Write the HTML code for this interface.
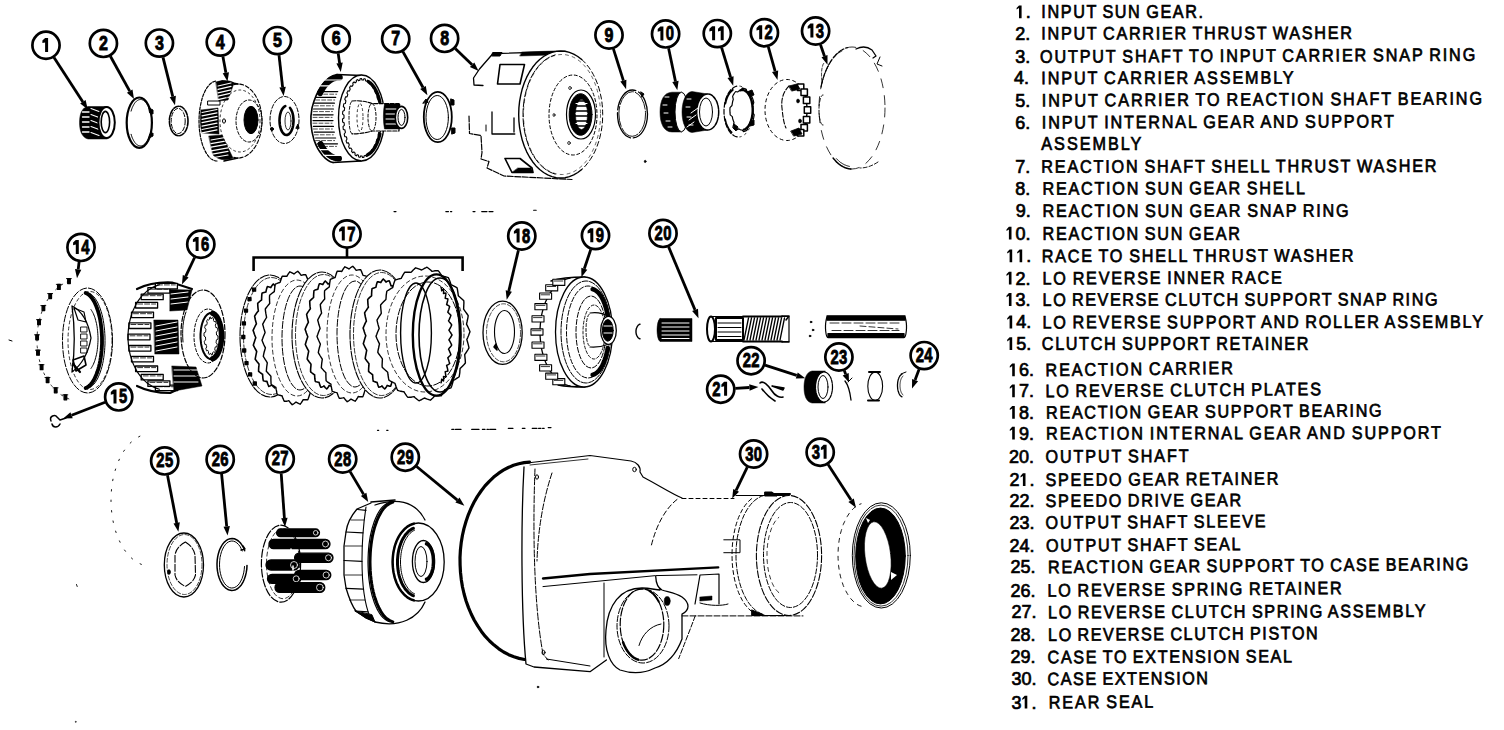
<!DOCTYPE html>
<html><head><meta charset="utf-8"><style>
html,body{margin:0;padding:0;background:#fff;}
body{width:1504px;height:730px;overflow:hidden;position:relative;}
svg{position:absolute;left:0;top:0;}
.t text{font-family:"Liberation Sans",sans-serif;font-weight:normal;font-size:18px;fill:#000;stroke:#000;stroke-width:0.7px;word-spacing:-1.5px;}
text.cn{font-family:"Liberation Sans",sans-serif;font-weight:bold;font-size:20px;fill:#000;stroke:#000;stroke-width:0.9px;text-anchor:middle;}
</style></head><body>
<svg width="1504" height="730" viewBox="0 0 1504 730">
<g class="parts" fill="none" stroke="#000" stroke-width="1.3" stroke-linecap="round" stroke-linejoin="round">
<path d="M107,106.5 H88 C82,107.5 79.5,114 79.5,122.5 C79.5,131 82,137.5 88,139 H107 Z" fill="#000" stroke="#000" stroke-width="0.5" />
<line x1="82.5" y1="112.0" x2="89.0" y2="112.0" stroke="#fff" stroke-width="1.3"/>
<line x1="82.5" y1="117.0" x2="89.0" y2="117.0" stroke="#fff" stroke-width="1.3"/>
<line x1="82.5" y1="122.0" x2="89.0" y2="122.0" stroke="#fff" stroke-width="1.3"/>
<line x1="82.5" y1="127.0" x2="89.0" y2="127.0" stroke="#fff" stroke-width="1.3"/>
<line x1="82.5" y1="132.0" x2="89.0" y2="132.0" stroke="#fff" stroke-width="1.3"/>
<line x1="91.0" y1="108.5" x2="99.0" y2="111.5" stroke="#fff" stroke-width="1.1"/>
<line x1="91.0" y1="114.5" x2="99.0" y2="117.5" stroke="#fff" stroke-width="1.1"/>
<line x1="91.0" y1="120.5" x2="99.0" y2="123.5" stroke="#fff" stroke-width="1.1"/>
<line x1="91.0" y1="126.5" x2="99.0" y2="129.5" stroke="#fff" stroke-width="1.1"/>
<line x1="91.0" y1="132.5" x2="99.0" y2="135.5" stroke="#fff" stroke-width="1.1"/>
<ellipse cx="106.6" cy="122.5" rx="8.2" ry="15.6" fill="#fff" stroke="#000" stroke-width="2" />
<ellipse cx="105.4" cy="122.0" rx="4.2" ry="10.6" fill="none" stroke="#000" stroke-width="1.6" />
<ellipse cx="139.3" cy="122.7" rx="12.6" ry="25.2" fill="none" stroke="#000" stroke-width="2.2" />
<path d="M131.1,111.1 L131.4,110.1 L131.7,109.2 L132.0,108.3 L132.3,107.5 L132.7,106.7 L133.1,105.9 L133.5,105.1 L133.9,104.4 L134.3,103.8 L134.7,103.1 L135.1,102.6 L135.6,102.0 L136.1,101.5 L136.5,101.1 L137.0,100.7 L137.5,100.4 L138.0,100.1 L138.5,99.9 L139.0,99.7 L139.6,99.6 L140.1,99.5 L140.6,99.5 L141.1,99.5 L141.6,99.6 L142.1,99.8 L142.7,100.0 L143.2,100.2 L143.7,100.5 L144.1,100.9 L144.6,101.3 L145.1,101.7 L145.6,102.2 L146.0,102.8 L146.5,103.4 L146.9,104.0 L147.3,104.7 L147.7,105.4 L148.1,106.2 L148.4,107.0 L148.8,107.8" fill="none" stroke="#000" stroke-width="1"/>
<path d="M148.8,137.6 L148.4,138.4 L148.1,139.2 L147.7,140.0 L147.3,140.7 L146.9,141.4 L146.5,142.0 L146.0,142.6 L145.6,143.2 L145.1,143.7 L144.6,144.1 L144.1,144.5 L143.7,144.9 L143.2,145.2 L142.7,145.4 L142.1,145.6 L141.6,145.8 L141.1,145.9 L140.6,145.9 L140.1,145.9 L139.6,145.8 L139.0,145.7 L138.5,145.5 L138.0,145.3 L137.5,145.0 L137.0,144.7 L136.5,144.3 L136.1,143.9 L135.6,143.4 L135.1,142.8 L134.7,142.3 L134.3,141.6 L133.9,141.0 L133.5,140.3 L133.1,139.5 L132.7,138.7 L132.3,137.9 L132.0,137.1 L131.7,136.2 L131.4,135.3 L131.1,134.3" fill="none" stroke="#000" stroke-width="1"/>
<path d="M149,108 l4,2 l0,4 l-3,-1 z" fill="#000" stroke="#000" stroke-width="1" />
<path d="M149,138 l4,-2 l0,-3 l-3,1 z" fill="#000" stroke="#000" stroke-width="1" />
<ellipse cx="178.7" cy="121.0" rx="9.3" ry="14.8" fill="none" stroke="#000" stroke-width="1.6" stroke-dasharray="5,1.5" />
<ellipse cx="178.2" cy="121.0" rx="7.0" ry="12.6" fill="none" stroke="#000" stroke-width="1" stroke-dasharray="4,2" />
<path d="M217.0,161.0 L215.6,160.9 L214.2,160.5 L212.8,159.9 L211.4,159.0 L210.1,158.0 L208.8,156.6 L207.6,155.1 L206.4,153.4 L205.3,151.4 L204.3,149.3 L203.3,147.0 L202.4,144.5 L201.7,141.9 L201.0,139.2 L200.4,136.3 L199.9,133.4 L199.5,130.3 L199.2,127.3 L199.1,124.1 L199.0,121.0 L199.1,117.9 L199.2,114.7 L199.5,111.7 L199.9,108.6 L200.4,105.7 L201.0,102.8 L201.7,100.1 L202.4,97.5 L203.3,95.0 L204.3,92.7 L205.3,90.6 L206.4,88.6 L207.6,86.9 L208.8,85.4 L210.1,84.0 L211.4,83.0 L212.8,82.1 L214.2,81.5 L215.6,81.1 L217.0,81.0" fill="none" stroke="#000" stroke-width="1.2" stroke-dasharray="3,1.5"/>
<path d="M233.8,84.6 L235.9,84.1 L238.0,84.0 L240.1,84.1 L242.2,84.6 L244.2,85.3 L246.2,86.2 L248.1,87.5 L250.0,89.0 L251.8,90.7 L253.4,92.7 L255.0,94.8 L256.4,97.2 L257.7,99.8 L258.8,102.5 L259.8,105.4 L260.6,108.3 L261.2,111.4 L261.6,114.6 L261.9,117.8 L262.0,121.0 L261.9,124.2 L261.6,127.4 L261.2,130.6 L260.6,133.7 L259.8,136.6 L258.8,139.5 L257.7,142.2 L256.4,144.8 L255.0,147.2 L253.4,149.3 L251.8,151.3 L250.0,153.0 L248.1,154.5 L246.2,155.8 L244.2,156.7 L242.2,157.4 L240.1,157.9 L238.0,158.0 L235.9,157.9 L233.8,157.4" fill="none" stroke="#000" stroke-width="1.1" stroke-dasharray="4,2"/>
<line x1="222.0" y1="81.0" x2="238.0" y2="84.0" stroke="#000" stroke-width="1.5"/>
<line x1="224.0" y1="161.0" x2="238.0" y2="158.0" stroke="#000" stroke-width="1.5"/>
<path d="M216,82 C222,80 230,80 234,83 L228,100 L219,101 Z" fill="#000" stroke="#000" stroke-width="0.5" />
<path d="M201,110 L218,108 L219,134 L202,133 C200,126 200,117 201,110 Z" fill="#000" stroke="#000" stroke-width="0.5" />
<path d="M209,136 L222,135 L233,158 C226,161 218,160 213,155 Z" fill="#000" stroke="#000" stroke-width="0.5" />
<line x1="202.0" y1="112.5" x2="217.0" y2="109.5" stroke="#fff" stroke-width="1.2"/>
<line x1="202.0" y1="115.9" x2="217.0" y2="112.9" stroke="#fff" stroke-width="1.2"/>
<line x1="202.0" y1="119.3" x2="217.0" y2="116.3" stroke="#fff" stroke-width="1.2"/>
<line x1="202.0" y1="122.7" x2="217.0" y2="119.7" stroke="#fff" stroke-width="1.2"/>
<line x1="202.0" y1="126.1" x2="217.0" y2="123.1" stroke="#fff" stroke-width="1.2"/>
<line x1="202.0" y1="129.5" x2="217.0" y2="126.5" stroke="#fff" stroke-width="1.2"/>
<line x1="202.0" y1="132.9" x2="217.0" y2="129.9" stroke="#fff" stroke-width="1.2"/>
<line x1="211.0" y1="140.0" x2="228.0" y2="137.0" stroke="#fff" stroke-width="1.2"/>
<line x1="211.0" y1="143.6" x2="228.0" y2="140.6" stroke="#fff" stroke-width="1.2"/>
<line x1="211.0" y1="147.2" x2="228.0" y2="144.2" stroke="#fff" stroke-width="1.2"/>
<line x1="211.0" y1="150.8" x2="228.0" y2="147.8" stroke="#fff" stroke-width="1.2"/>
<line x1="211.0" y1="154.4" x2="228.0" y2="151.4" stroke="#fff" stroke-width="1.2"/>
<line x1="211.0" y1="158.0" x2="228.0" y2="155.0" stroke="#fff" stroke-width="1.2"/>
<line x1="218.0" y1="86.0" x2="231.0" y2="83.0" stroke="#fff" stroke-width="1.2"/>
<line x1="218.0" y1="89.4" x2="231.0" y2="86.4" stroke="#fff" stroke-width="1.2"/>
<line x1="218.0" y1="92.8" x2="231.0" y2="89.8" stroke="#fff" stroke-width="1.2"/>
<line x1="218.0" y1="96.2" x2="231.0" y2="93.2" stroke="#fff" stroke-width="1.2"/>
<line x1="218.0" y1="99.6" x2="231.0" y2="96.6" stroke="#fff" stroke-width="1.2"/>
<path d="M208,101 h12 v4 h-12 z" fill="none" stroke="#000" stroke-width="1" />
<ellipse cx="251.0" cy="120.0" rx="7.0" ry="13.7" fill="#000" stroke="#000" stroke-width="1" />
<ellipse cx="249.0" cy="121.0" rx="13.0" ry="21.0" fill="none" stroke="#000" stroke-width="1" stroke-dasharray="3,2" />
<ellipse cx="240.0" cy="121.0" rx="20.0" ry="31.0" fill="none" stroke="#000" stroke-width="0.8" stroke-dasharray="2,3" />
<ellipse cx="224.0" cy="121.0" rx="1.5" ry="2.2" fill="none" stroke="#000" stroke-width="1" />
<ellipse cx="284.5" cy="120.0" rx="14.5" ry="23.5" fill="none" stroke="#000" stroke-width="1" stroke-dasharray="4,2" />
<path d="M290.0,107.9 L290.8,109.1 L291.5,110.4 L292.2,112.0 L292.7,113.7 L293.1,115.5 L293.3,117.5 L293.5,119.5 L293.5,121.5 L293.3,123.5 L293.1,125.5 L292.7,127.3 L292.2,129.0 L291.5,130.6 L290.8,131.9 L290.0,133.1 L289.1,133.9 L288.2,134.6 L287.2,134.9 L286.3,135.0 L285.3,134.8 L284.3,134.3 L283.4,133.5 L282.6,132.5 L281.8,131.3 L281.1,129.8 L280.6,128.2 L280.1,126.4 L279.8,124.5 L279.6,122.5 L279.5,120.5 L279.6,118.5 L279.8,116.5 L280.1,114.6 L280.6,112.8 L281.1,111.2 L281.8,109.7 L282.6,108.5 L283.4,107.5 L284.3,106.7 L285.3,106.2" fill="none" stroke="#000" stroke-width="2.6"/>
<ellipse cx="288.0" cy="121.0" rx="3.0" ry="9.0" fill="none" stroke="#000" stroke-width="0.8" />
<ellipse cx="272.0" cy="129.0" rx="1.5" ry="1.5" fill="#000" stroke="#000" stroke-width="1" />
<path d="M296,128 l2,-4 l1,4 z" fill="#000" stroke="#000" stroke-width="1" />
<path d="M337,74.5 C325,76 316,92 312,108 C310,118 311,130 314,140 C318,152 326,161 333,162.5" fill="none" stroke="#000" stroke-width="1.6" />
<path d="M320.1,93.1 L320.4,92.3 L320.8,91.6 L321.2,90.9 L321.6,90.2 L322.0,89.5 L322.4,88.8 L322.8,88.2 L323.2,87.5 L323.6,86.9 L324.1,86.3 L324.5,85.7 L325.0,85.2 L325.4,84.6 L325.9,84.1 L326.4,83.6 L326.9,83.1 L327.3,82.6 L327.8,82.1 L328.3,81.7 L328.9,81.3 L329.4,80.9 L329.9,80.5 L330.4,80.2 L330.9,79.8 L331.5,79.5 L332.0,79.2 L332.6,79.0 L333.1,78.7 L333.7,78.5 L334.2,78.3 L334.8,78.1 L335.3,78.0 L335.9,77.8 L336.4,77.7 L337.0,77.6 L337.6,77.6 L338.1,77.5 L338.7,77.5 L339.3,77.5 L339.8,77.5" fill="none" stroke="#000" stroke-width="6"/>
<path d="M339.0,158.5 L338.5,158.5 L338.0,158.5 L337.4,158.4 L336.9,158.3 L336.4,158.3 L335.9,158.2 L335.3,158.0 L334.8,157.9 L334.3,157.7 L333.8,157.5 L333.3,157.3 L332.8,157.1 L332.3,156.9 L331.8,156.6 L331.3,156.4 L330.8,156.1 L330.3,155.7 L329.8,155.4 L329.3,155.1 L328.9,154.7 L328.4,154.3 L327.9,153.9 L327.5,153.5 L327.0,153.1 L326.5,152.6 L326.1,152.2 L325.7,151.7 L325.2,151.2 L324.8,150.7 L324.4,150.1 L324.0,149.6 L323.6,149.0 L323.2,148.4 L322.8,147.9 L322.4,147.3 L322.0,146.6 L321.7,146.0 L321.3,145.4 L321.0,144.7 L320.6,144.0" fill="none" stroke="#000" stroke-width="6"/>
<line x1="324.7" y1="80.0" x2="344.7" y2="80.0" stroke="#fff" stroke-width="1.2"/>
<line x1="320.5" y1="85.8" x2="340.5" y2="85.8" stroke="#fff" stroke-width="1.2"/>
<line x1="317.7" y1="91.6" x2="337.7" y2="91.6" stroke="#000" stroke-width="1.2"/>
<line x1="317.7" y1="94.2" x2="336.7" y2="94.2" stroke="#000" stroke-width="0.7" stroke-dasharray="4,2"/>
<line x1="315.7" y1="97.4" x2="335.7" y2="97.4" stroke="#000" stroke-width="1.2"/>
<line x1="315.7" y1="100.0" x2="334.7" y2="100.0" stroke="#000" stroke-width="0.7" stroke-dasharray="4,2"/>
<line x1="314.4" y1="103.2" x2="334.4" y2="103.2" stroke="#000" stroke-width="1.2"/>
<line x1="314.4" y1="105.8" x2="333.4" y2="105.8" stroke="#000" stroke-width="0.7" stroke-dasharray="4,2"/>
<line x1="313.5" y1="109.0" x2="333.5" y2="109.0" stroke="#000" stroke-width="1.2"/>
<line x1="313.5" y1="111.6" x2="332.5" y2="111.6" stroke="#000" stroke-width="0.7" stroke-dasharray="4,2"/>
<line x1="313.1" y1="114.8" x2="333.1" y2="114.8" stroke="#000" stroke-width="1.2"/>
<line x1="313.1" y1="117.4" x2="332.1" y2="117.4" stroke="#000" stroke-width="0.7" stroke-dasharray="4,2"/>
<line x1="313.0" y1="120.6" x2="333.0" y2="120.6" stroke="#000" stroke-width="1.2"/>
<line x1="313.0" y1="123.2" x2="332.0" y2="123.2" stroke="#000" stroke-width="0.7" stroke-dasharray="4,2"/>
<line x1="313.4" y1="126.4" x2="333.4" y2="126.4" stroke="#000" stroke-width="1.2"/>
<line x1="313.4" y1="129.0" x2="332.4" y2="129.0" stroke="#000" stroke-width="0.7" stroke-dasharray="4,2"/>
<line x1="314.3" y1="132.2" x2="334.3" y2="132.2" stroke="#000" stroke-width="1.2"/>
<line x1="314.3" y1="134.8" x2="333.3" y2="134.8" stroke="#000" stroke-width="0.7" stroke-dasharray="4,2"/>
<line x1="315.6" y1="138.0" x2="335.6" y2="138.0" stroke="#000" stroke-width="1.2"/>
<line x1="315.6" y1="140.6" x2="334.6" y2="140.6" stroke="#000" stroke-width="0.7" stroke-dasharray="4,2"/>
<line x1="317.5" y1="143.8" x2="337.5" y2="143.8" stroke="#000" stroke-width="1.2"/>
<line x1="317.5" y1="146.4" x2="336.5" y2="146.4" stroke="#000" stroke-width="0.7" stroke-dasharray="4,2"/>
<line x1="320.1" y1="149.6" x2="340.1" y2="149.6" stroke="#fff" stroke-width="1.2"/>
<line x1="324.1" y1="155.4" x2="344.1" y2="155.4" stroke="#fff" stroke-width="1.2"/>
<line x1="337.0" y1="74.5" x2="362.0" y2="75.5" stroke="#000" stroke-width="1.6"/>
<line x1="333.0" y1="162.5" x2="361.0" y2="161.0" stroke="#000" stroke-width="1.6"/>
<ellipse cx="361.5" cy="118.0" rx="23.0" ry="43.0" fill="#fff" stroke="#000" stroke-width="1.4" />
<path d="M362.0,80.0 L362.4,80.0 L362.9,80.0 L363.3,80.1 L363.9,78.7 L364.4,78.8 L364.9,78.9 L365.3,79.1 L365.5,80.7 L365.9,80.9 L366.4,81.1 L366.8,81.4 L367.7,80.2 L368.1,80.5 L368.6,80.8 L369.0,81.1 L368.9,82.9 L369.3,83.3 L369.7,83.6 L370.1,84.1 L371.2,83.2 L371.6,83.6 L372.0,84.1 L372.4,84.6 L372.0,86.4 L372.4,86.9 L372.7,87.5 L373.1,88.0 L374.4,87.5 L374.7,88.1 L375.1,88.7 L375.4,89.4 L374.7,91.1 L375.0,91.8 L375.3,92.5 L375.6,93.2 L377.1,92.9 L377.4,93.7 L377.7,94.5 L377.9,95.3 L377.0,96.9 L377.2,97.7 L377.4,98.5 L377.7,99.3 L379.2,99.4 L379.4,100.2 L379.6,101.1 L379.8,102.0 L378.6,103.5 L378.8,104.3 L378.9,105.2 L379.1,106.1 L380.7,106.5 L380.8,107.5 L380.9,108.4 L381.0,109.3 L379.7,110.6 L379.7,111.5 L379.8,112.4 L379.9,113.3 L381.4,114.1 L381.4,115.1 L381.5,116.1 L381.5,117.0 L380.0,118.0 L380.0,118.9 L380.0,119.9 L380.0,120.8 L381.4,121.9 L381.4,122.8 L381.3,123.8 L381.2,124.8 L379.7,125.4 L379.6,126.3 L379.5,127.2 L379.3,128.1 L380.7,129.5 L380.5,130.4 L380.4,131.3 L380.2,132.2 L378.6,132.5 L378.5,133.4 L378.3,134.2 L378.1,135.1 L379.2,136.6 L379.0,137.5 L378.7,138.3 L378.5,139.1 L377.0,139.1 L376.7,139.9 L376.5,140.6 L376.2,141.4 L377.1,143.1 L376.8,143.8 L376.4,144.5 L376.1,145.2 L374.7,144.9 L374.4,145.5 L374.1,146.2 L373.8,146.8 L374.4,148.5 L374.0,149.1 L373.6,149.7 L373.2,150.3 L372.0,149.6 L371.6,150.1 L371.3,150.6 L370.9,151.1 L371.2,152.8 L370.8,153.3 L370.3,153.7 L369.9,154.1 L368.9,153.1 L368.5,153.5 L368.1,153.8 L367.6,154.1 L367.7,155.8 L367.2,156.1 L366.7,156.3 L366.3,156.5 L365.5,155.3 L365.1,155.4 L364.6,155.6 L364.2,155.7 L363.9,157.3 L363.4,157.4 L363.0,157.5 L362.5,157.5 L362.0,156.0 L361.6,156.0 L361.1,156.0 L360.7,155.9 L360.1,157.3 L359.6,157.2 L359.1,157.1 L358.7,156.9 L358.5,155.3 L358.1,155.1 L357.6,154.9 L357.2,154.6 L356.3,155.8 L355.9,155.5 L355.4,155.2 L355.0,154.9 L355.1,153.1 L354.7,152.7 L354.3,152.4 L353.9,151.9 L352.8,152.8 L352.4,152.4 L352.0,151.9 L351.6,151.4 L352.0,149.6 L351.6,149.1 L351.3,148.5 L350.9,148.0 L349.6,148.5 L349.3,147.9 L348.9,147.3 L348.6,146.6 L349.3,144.9 L349.0,144.2 L348.7,143.5 L348.4,142.8 L346.9,143.1 L346.6,142.3 L346.3,141.5 L346.1,140.7 L347.0,139.1 L346.8,138.3 L346.6,137.5 L346.3,136.7 L344.8,136.6 L344.6,135.8 L344.4,134.9 L344.2,134.0 L345.4,132.5 L345.2,131.7 L345.1,130.8 L344.9,129.9 L343.3,129.5 L343.2,128.5 L343.1,127.6 L343.0,126.7 L344.3,125.4 L344.3,124.5 L344.2,123.6 L344.1,122.7 L342.6,121.9 L342.6,120.9 L342.5,119.9 L342.5,119.0 L344.0,118.0 L344.0,117.1 L344.0,116.1 L344.0,115.2 L342.6,114.1 L342.6,113.2 L342.7,112.2 L342.8,111.2 L344.3,110.6 L344.4,109.7 L344.5,108.8 L344.7,107.9 L343.3,106.5 L343.5,105.6 L343.6,104.7 L343.8,103.8 L345.4,103.5 L345.5,102.6 L345.7,101.8 L345.9,100.9 L344.8,99.4 L345.0,98.5 L345.3,97.7 L345.5,96.9 L347.0,96.9 L347.3,96.1 L347.5,95.4 L347.8,94.6 L346.9,92.9 L347.2,92.2 L347.6,91.5 L347.9,90.8 L349.3,91.1 L349.6,90.5 L349.9,89.8 L350.2,89.2 L349.6,87.5 L350.0,86.9 L350.4,86.3 L350.8,85.7 L352.0,86.4 L352.4,85.9 L352.7,85.4 L353.1,84.9 L352.8,83.2 L353.2,82.7 L353.7,82.3 L354.1,81.9 L355.1,82.9 L355.5,82.5 L355.9,82.2 L356.4,81.9 L356.3,80.2 L356.8,79.9 L357.3,79.7 L357.7,79.5 L358.5,80.7 L358.9,80.6 L359.4,80.4 L359.8,80.3 L360.1,78.7 L360.6,78.6 L361.0,78.5 L361.5,78.5 L362.0,80.0" fill="none" stroke="#000" stroke-width="1.1"/>
<path d="M368.5,81.8 L368.9,82.0 L369.3,82.2 L369.6,82.5 L370.0,82.8 L370.3,83.0 L370.7,83.4 L371.0,83.7 L371.4,84.0 L371.7,84.4 L372.1,84.7 L372.4,85.1 L372.8,85.5 L373.1,85.9 L373.4,86.4 L373.7,86.8 L374.0,87.3 L374.3,87.8 L374.7,88.2 L375.0,88.8 L375.2,89.3 L375.5,89.8 L375.8,90.4 L376.1,90.9 L376.4,91.5 L376.6,92.1 L376.9,92.7 L377.2,93.3 L377.4,93.9 L377.6,94.5 L377.9,95.2 L378.1,95.8 L378.3,96.5 L378.6,97.2 L378.8,97.9 L379.0,98.5 L379.2,99.2 L379.3,100.0 L379.5,100.7 L379.7,101.4 L379.9,102.2" fill="none" stroke="#000" stroke-width="3.4"/>
<path d="M379.9,133.8 L379.7,134.6 L379.5,135.4 L379.3,136.2 L379.1,136.9 L378.9,137.7 L378.7,138.4 L378.5,139.1 L378.2,139.8 L378.0,140.5 L377.7,141.2 L377.5,141.9 L377.2,142.6 L377.0,143.2 L376.7,143.8 L376.4,144.5 L376.1,145.1 L375.8,145.7 L375.5,146.2 L375.2,146.8 L374.9,147.3 L374.6,147.9 L374.2,148.4 L373.9,148.9 L373.6,149.4 L373.2,149.8 L372.9,150.3 L372.5,150.7 L372.2,151.1 L371.8,151.5 L371.5,151.9 L371.1,152.3 L370.7,152.6 L370.3,152.9 L370.0,153.2 L369.6,153.5 L369.2,153.8 L368.8,154.1 L368.4,154.3 L368.0,154.5 L367.6,154.7" fill="none" stroke="#000" stroke-width="3.4"/>
<path d="M352,101 C360,100 368,102 372,103.6 H399 V131 H372 C366,133 358,134 352,133.8" fill="#fff" stroke="#000" stroke-width="1.2" stroke-dasharray="4,1.5" />
<path d="M352.0,133.5 L351.8,133.5 L351.5,133.3 L351.3,133.1 L351.1,132.7 L350.9,132.3 L350.6,131.8 L350.4,131.1 L350.2,130.4 L350.1,129.7 L349.9,128.8 L349.7,127.9 L349.6,126.9 L349.4,125.9 L349.3,124.8 L349.2,123.6 L349.1,122.4 L349.1,121.2 L349.0,120.0 L349.0,118.8 L349.0,117.5 L349.0,116.2 L349.0,115.0 L349.1,113.8 L349.1,112.6 L349.2,111.4 L349.3,110.2 L349.4,109.1 L349.6,108.1 L349.7,107.1 L349.9,106.2 L350.1,105.3 L350.2,104.6 L350.4,103.9 L350.6,103.2 L350.9,102.7 L351.1,102.3 L351.3,101.9 L351.5,101.7 L351.8,101.5 L352.0,101.5" fill="none" stroke="#000" stroke-width="1" stroke-dasharray="3,2"/>
<path d="M372.0,103.6 L372.6,103.8 L373.2,104.3 L373.8,105.1 L374.4,106.2 L374.8,107.6 L375.2,109.2 L375.6,111.1 L375.8,113.1 L376.0,115.2 L376.0,117.3 L376.0,119.4 L375.8,121.5 L375.6,123.5 L375.2,125.4 L374.8,127.0 L374.4,128.4 L373.8,129.5 L373.2,130.3 L372.6,130.8 L372.0,131.0 L371.4,130.8 L370.8,130.3 L370.2,129.5 L369.6,128.4 L369.2,127.0 L368.8,125.4 L368.4,123.5 L368.2,121.5 L368.0,119.4 L368.0,117.3 L368.0,115.2 L368.2,113.1 L368.4,111.1 L368.8,109.2 L369.2,107.6 L369.6,106.2 L370.2,105.1 L370.8,104.3 L371.4,103.8 L372.0,103.6" fill="none" stroke="#000" stroke-width="1" stroke-dasharray="3,2"/>
<ellipse cx="360.0" cy="117.5" rx="3.0" ry="14.0" fill="none" stroke="#000" stroke-width="0.8" stroke-dasharray="2,3" />
<path d="M384.5,104 H400 V129 H384.5 C383,122 383,111 384.5,104 Z" fill="#000" stroke="#000" stroke-width="0.5" />
<line x1="386.0" y1="109.0" x2="396.0" y2="109.0" stroke="#fff" stroke-width="1"/>
<line x1="386.0" y1="114.0" x2="396.0" y2="114.0" stroke="#fff" stroke-width="1"/>
<line x1="386.0" y1="119.0" x2="396.0" y2="119.0" stroke="#fff" stroke-width="1"/>
<line x1="386.0" y1="124.0" x2="396.0" y2="124.0" stroke="#fff" stroke-width="1"/>
<ellipse cx="401.5" cy="117.4" rx="6.2" ry="11.0" fill="#fff" stroke="#000" stroke-width="1.6" />
<ellipse cx="401.5" cy="117.4" rx="3.5" ry="8.0" fill="none" stroke="#000" stroke-width="1" />
<ellipse cx="437.8" cy="117.0" rx="14.0" ry="25.2" fill="none" stroke="#000" stroke-width="1.8" />
<ellipse cx="437.2" cy="117.5" rx="11.2" ry="22.0" fill="none" stroke="#000" stroke-width="1" />
<path d="M451,99 l3,1 v5 l-3,0 z" fill="#000" stroke="#000" stroke-width="1" />
<path d="M452,128 l3,0 v5 l-3,1 z" fill="#000" stroke="#000" stroke-width="1" />
<path d="M423,103 l3,-4 l2,3 z" fill="#000" stroke="#000" stroke-width="1" />
<path d="M565,51.5 L493,53.5 L479.5,69 L473.5,78 L474,85 L483,85.5" fill="none" stroke="#000" stroke-width="1.3" />
<path d="M469,116 L469.5,133.5 L481,135.5 L482,152.5 L481,159 L489,161.5 L487,168 L504,176 L572,179.5" fill="none" stroke="#000" stroke-width="1.2" stroke-dasharray="6,1.5" />
<path d="M493,52.5 L502,52.5 L500,56 L492,56 Z" fill="#000" stroke="#000" stroke-width="1" />
<path d="M522,52 L555,51 L552,55 L520,56 Z" fill="#000" stroke="#000" stroke-width="0.5" />
<ellipse cx="560.7" cy="114.5" rx="42.0" ry="63.5" fill="#fff" stroke="none" stroke-width="0" />
<path d="M581.7,169.5 L577.8,172.5 L573.7,174.9 L569.4,176.6 L565.1,177.7 L560.7,178.0 L556.3,177.7 L552.0,176.6 L547.7,174.9 L543.6,172.5 L539.7,169.5 L536.0,165.9 L532.6,161.7 L529.5,157.0 L526.7,151.8 L524.3,146.2 L522.3,140.3 L520.8,134.1 L519.6,127.7 L518.9,121.1 L518.7,114.5 L518.9,107.9 L519.6,101.3 L520.8,94.9 L522.3,88.7 L524.3,82.8 L526.7,77.2 L529.5,72.0 L532.6,67.3 L536.0,63.1 L539.7,59.5 L543.6,56.5 L547.7,54.1 L552.0,52.4 L556.3,51.3 L560.7,51.0 L565.1,51.3 L569.4,52.4 L573.7,54.1 L577.8,56.5 L581.7,59.5" fill="none" stroke="#000" stroke-width="1.4"/>
<path d="M581.7,59.5 L583.6,61.2 L585.4,63.1 L587.1,65.2 L588.8,67.3 L590.4,69.6 L591.9,72.0 L593.3,74.5 L594.7,77.2 L595.9,79.9 L597.1,82.8 L598.1,85.7 L599.1,88.7 L599.9,91.7 L600.6,94.9 L601.3,98.1 L601.8,101.3 L602.2,104.6 L602.5,107.9 L602.6,111.2 L602.7,114.5 L602.6,117.8 L602.5,121.1 L602.2,124.4 L601.8,127.7 L601.3,130.9 L600.6,134.1 L599.9,137.3 L599.1,140.3 L598.1,143.3 L597.1,146.2 L595.9,149.1 L594.7,151.8 L593.3,154.5 L591.9,157.0 L590.4,159.4 L588.8,161.7 L587.1,163.8 L585.4,165.9 L583.6,167.8 L581.7,169.5" fill="none" stroke="#000" stroke-width="1" stroke-dasharray="5,3"/>
<path d="M555.2,174.1 L552.6,173.2 L549.9,172.0 L547.4,170.6 L544.9,168.9 L542.5,166.9 L540.2,164.7 L538.0,162.2 L535.9,159.5 L533.9,156.5 L532.1,153.4 L530.4,150.1 L528.9,146.6 L527.6,142.9 L526.4,139.1 L525.4,135.2 L524.5,131.2 L523.9,127.1 L523.4,122.9 L523.1,118.7 L523.0,114.5 L523.1,110.3 L523.4,106.1 L523.9,101.9 L524.5,97.8 L525.4,93.8 L526.4,89.9 L527.6,86.1 L528.9,82.4 L530.4,78.9 L532.1,75.6 L533.9,72.5 L535.9,69.5 L538.0,66.8 L540.2,64.3 L542.5,62.1 L544.9,60.1 L547.4,58.4 L549.9,57.0 L552.6,55.8 L555.2,54.9" fill="none" stroke="#000" stroke-width="1" stroke-dasharray="8,2"/>
<ellipse cx="562.0" cy="114.5" rx="38.5" ry="60.0" fill="none" stroke="#000" stroke-width="0.6" stroke-dasharray="3,4" />
<path d="M500,64.5 L524.5,64.5 L520,84 L497.5,84 Z" fill="none" stroke="#000" stroke-width="1.6" />
<path d="M492,112 V134 H514.8 M514,118 V132" fill="none" stroke="#000" stroke-width="1.3" />
<path d="M505,158.5 L520,158.5 L532,168 L533,172.5 L512,172.5 Z" fill="none" stroke="#000" stroke-width="1.6" />
<path d="M512,172.5 L533,172.5 L531,168 L518,168 Z" fill="#000" stroke="#000" stroke-width="0.5" />
<path d="M486,125 v6" fill="none" stroke="#000" stroke-width="1" />
<ellipse cx="573.0" cy="115.0" rx="24.0" ry="40.0" fill="none" stroke="#000" stroke-width="1" stroke-dasharray="3,2.5" />
<ellipse cx="581.0" cy="114.5" rx="14.5" ry="24.5" fill="none" stroke="#000" stroke-width="1.2" />
<ellipse cx="580.6" cy="114.5" rx="11.4" ry="20.8" fill="#000" stroke="#000" stroke-width="1" />
<ellipse cx="581.5" cy="114.5" rx="6.0" ry="15.0" fill="#fff" stroke="#000" stroke-width="0.5" />
<line x1="575.0" y1="101.0" x2="588.0" y2="101.0" stroke="#000" stroke-width="1.5"/>
<line x1="575.0" y1="106.0" x2="588.0" y2="106.0" stroke="#000" stroke-width="1.5"/>
<line x1="575.0" y1="111.0" x2="588.0" y2="111.0" stroke="#000" stroke-width="1.5"/>
<line x1="575.0" y1="116.0" x2="588.0" y2="116.0" stroke="#000" stroke-width="1.5"/>
<line x1="575.0" y1="121.0" x2="588.0" y2="121.0" stroke="#000" stroke-width="1.5"/>
<line x1="575.0" y1="126.0" x2="588.0" y2="126.0" stroke="#000" stroke-width="1.5"/>
<line x1="576.0" y1="103.5" x2="587.0" y2="103.5" stroke="#fff" stroke-width="1"/>
<line x1="576.0" y1="113.5" x2="587.0" y2="113.5" stroke="#fff" stroke-width="1"/>
<line x1="576.0" y1="123.5" x2="587.0" y2="123.5" stroke="#fff" stroke-width="1"/>
<ellipse cx="570.0" cy="88.0" rx="1.3" ry="1.5" fill="none" stroke="#000" stroke-width="0.8" />
<ellipse cx="569.0" cy="143.0" rx="1.3" ry="1.5" fill="none" stroke="#000" stroke-width="0.8" />
<ellipse cx="554.0" cy="115.0" rx="1.0" ry="1.5" fill="none" stroke="#000" stroke-width="0.8" />
<ellipse cx="632.5" cy="114.0" rx="15.0" ry="24.0" fill="none" stroke="#000" stroke-width="1.3" stroke-dasharray="30,3" />
<ellipse cx="632.2" cy="114.0" rx="13.3" ry="22.3" fill="none" stroke="#000" stroke-width="0.9" stroke-dasharray="20,2" />
<path d="M641,92 l3,2 l-2,3 z" fill="#000" stroke="#000" stroke-width="1" />
<path d="M681.5,92.2 H672 C664,92.5 660,100 660,112 C660,124 664,132 672,132 H681.5 Z" fill="#000" stroke="#000" stroke-width="0.5" />
<ellipse cx="681.5" cy="112.0" rx="6.5" ry="19.8" fill="#fff" stroke="#000" stroke-width="1" />
<path d="M707.7,94 L692,91.5 C686,92 682,101 682,112 C682,123 686,132 692,132.5 L707.7,130 Z" fill="#000" stroke="#000" stroke-width="0.5" />
<ellipse cx="707.7" cy="112.0" rx="11.0" ry="18.0" fill="#fff" stroke="#000" stroke-width="1.5" stroke-dasharray="4,1" />
<ellipse cx="706.0" cy="112.0" rx="6.5" ry="14.0" fill="none" stroke="#000" stroke-width="1" />
<line x1="665.0" y1="97.0" x2="669.0" y2="97.0" stroke="#fff" stroke-width="1"/>
<line x1="663.0" y1="105.0" x2="667.0" y2="105.0" stroke="#fff" stroke-width="1"/>
<line x1="664.0" y1="113.0" x2="668.0" y2="113.0" stroke="#fff" stroke-width="1"/>
<line x1="666.0" y1="121.0" x2="670.0" y2="121.0" stroke="#fff" stroke-width="1"/>
<line x1="668.0" y1="127.0" x2="672.0" y2="127.0" stroke="#fff" stroke-width="1"/>
<line x1="687.0" y1="99.0" x2="691.0" y2="99.0" stroke="#fff" stroke-width="1"/>
<line x1="686.0" y1="107.0" x2="690.0" y2="107.0" stroke="#fff" stroke-width="1"/>
<line x1="687.0" y1="117.0" x2="691.0" y2="117.0" stroke="#fff" stroke-width="1"/>
<line x1="689.0" y1="125.0" x2="693.0" y2="125.0" stroke="#fff" stroke-width="1"/>
<line x1="687.0" y1="127.0" x2="694.0" y2="122.0" stroke="#fff" stroke-width="1"/>
<line x1="689.0" y1="120.0" x2="696.0" y2="115.0" stroke="#fff" stroke-width="1"/>
<line x1="691.0" y1="113.0" x2="698.0" y2="108.0" stroke="#fff" stroke-width="1"/>
<path d="M737.2,136.9 L736.2,136.7 L735.1,136.3 L734.1,135.8 L733.1,135.1 L732.1,134.4 L731.1,133.5 L730.2,132.5 L729.4,131.3 L728.6,130.1 L727.8,128.7 L727.1,127.3 L726.5,125.8 L725.9,124.2 L725.4,122.5 L725.0,120.7 L724.6,119.0 L724.4,117.1 L724.2,115.3 L724.0,113.4 L724.0,111.5 L724.0,109.6 L724.2,107.7 L724.4,105.9 L724.6,104.0 L725.0,102.3 L725.4,100.5 L725.9,98.8 L726.5,97.2 L727.1,95.7 L727.8,94.3 L728.6,92.9 L729.4,91.7 L730.2,90.5 L731.1,89.5 L732.1,88.6 L733.1,87.9 L734.1,87.2 L735.1,86.7 L736.2,86.3 L737.2,86.1" fill="none" stroke="#000" stroke-width="1.2" stroke-dasharray="5,2"/>
<path d="M739.8,86.1 L740.8,86.3 L741.9,86.7 L742.9,87.2 L743.9,87.9 L744.9,88.6 L745.9,89.5 L746.8,90.5 L747.6,91.7 L748.4,92.9 L749.2,94.3 L749.9,95.7 L750.5,97.2 L751.1,98.8 L751.6,100.5 L752.0,102.3 L752.4,104.0 L752.6,105.9 L752.8,107.7 L753.0,109.6 L753.0,111.5 L753.0,113.4 L752.8,115.3 L752.6,117.1 L752.4,119.0 L752.0,120.7 L751.6,122.5 L751.1,124.2 L750.5,125.8 L749.9,127.3 L749.2,128.7 L748.4,130.1 L747.6,131.3 L746.8,132.5 L745.9,133.5 L744.9,134.4 L743.9,135.1 L742.9,135.8 L741.9,136.3 L740.8,136.7 L739.8,136.9" fill="none" stroke="#000" stroke-width="0.8" stroke-dasharray="2,4"/>
<path d="M725.3,103.6 L725.3,103.2 L725.5,102.7 L725.6,102.2 L725.7,101.8 L725.8,101.3 L725.9,100.9 L726.0,100.4 L726.2,100.0 L726.3,99.6 L726.5,99.1 L726.6,98.7 L726.8,98.3 L726.9,97.9 L727.1,97.5 L727.3,97.1 L727.4,96.7 L727.6,96.3 L727.8,96.0 L728.0,95.6 L728.2,95.2 L728.4,94.9 L728.6,94.5 L728.8,94.2 L729.0,93.9 L729.2,93.6 L729.4,93.3 L729.6,93.0 L729.8,92.7 L730.1,92.4 L730.3,92.1 L730.5,91.8 L730.8,91.6 L731.0,91.3 L731.2,91.1 L731.5,90.9 L731.7,90.7 L732.0,90.4 L732.2,90.3 L732.5,90.1 L732.7,89.9" fill="none" stroke="#000" stroke-width="2"/>
<path d="M731.7,132.3 L731.5,132.2 L731.3,131.9 L731.1,131.7 L730.8,131.5 L730.6,131.3 L730.4,131.1 L730.2,130.8 L730.0,130.6 L729.8,130.3 L729.6,130.0 L729.4,129.8 L729.2,129.5 L729.0,129.2 L728.8,128.9 L728.7,128.6 L728.5,128.3 L728.3,128.0 L728.1,127.7 L728.0,127.4 L727.8,127.0 L727.6,126.7 L727.5,126.4 L727.3,126.0 L727.1,125.7 L727.0,125.3 L726.9,124.9 L726.7,124.6 L726.6,124.2 L726.4,123.8 L726.3,123.4 L726.2,123.0 L726.1,122.7 L726.0,122.3 L725.8,121.9 L725.7,121.4 L725.6,121.0 L725.5,120.6 L725.4,120.2 L725.3,119.8 L725.3,119.4" fill="none" stroke="#000" stroke-width="1.6"/>
<path d="M742.2,88.2 L743.6,88.3 L744.9,88.7 L746.3,89.4 L746.8,92.0 L747.8,93.1 L748.7,94.4 L749.6,95.9 L751.8,96.4 L752.6,98.4 L753.3,100.5 L753.8,102.8 L752.4,105.5 L752.6,107.8 L752.7,110.0 L752.6,112.2 L754.2,114.9 L753.8,117.2 L753.3,119.5 L752.6,121.6 L750.4,122.5 L749.6,124.1 L748.7,125.6 L747.8,126.9 L747.5,129.6 L746.3,130.6 L744.9,131.3 L743.6,131.7 L742.2,130.0 L741.0,129.9 L739.9,129.5 L738.7,128.9 L736.9,129.6 L735.7,128.5 L734.5,127.0 L733.5,125.4 L734.0,122.5 L733.3,120.6 L732.7,118.7 L732.3,116.6 L730.2,114.9 L730.0,112.4 L729.9,110.0 L730.0,107.6 L732.0,105.5 L732.3,103.4 L732.7,101.3 L733.3,99.4 L732.6,96.4 L733.5,94.6 L734.5,93.0 L735.7,91.5 L737.6,92.0 L738.7,91.1 L739.9,90.5 L741.0,90.1 L742.2,88.2" fill="none" stroke="#000" stroke-width="1.2"/>
<path d="M740.4,90.3 L741.2,90.1 L742.0,90.0 L742.8,90.0 L743.7,90.2 L744.5,90.5 L745.3,90.9 L746.0,91.4 L746.8,92.0 L747.5,92.8 L748.2,93.6 L748.9,94.6 L749.5,95.6 L750.1,96.7 L750.6,98.0 L751.1,99.3 L751.5,100.6 L751.8,102.0 L752.1,103.5 L752.4,105.0 L752.5,106.5 L752.7,108.1 L752.7,109.7 L752.7,111.2 L752.6,112.8 L752.5,114.3 L752.2,115.8 L752.0,117.3 L751.6,118.8 L751.2,120.2 L750.8,121.5 L750.3,122.7 L749.8,123.9 L749.2,125.0 L748.5,126.0 L747.8,126.9 L747.1,127.7 L746.4,128.3 L745.6,128.9 L744.8,129.4 L744.0,129.7" fill="none" stroke="#000" stroke-width="2.4"/>
<path d="M747,92 l5,-2 l2,5 l-4,1 z" fill="#000" stroke="#000" stroke-width="1" />
<path d="M750,122 l4,-2 l0,5 l-4,1 z" fill="#000" stroke="#000" stroke-width="1" />
<path d="M734,124 l4,3 l-2,4 l-3,-3 z" fill="#000" stroke="#000" stroke-width="1" />
<ellipse cx="787.0" cy="110.0" rx="22.0" ry="30.5" fill="none" stroke="#000" stroke-width="1" stroke-dasharray="3,3.5" />
<path d="M789,86 C783,92 781,100 782,108 C783,118 784,124 786,128" fill="none" stroke="#000" stroke-width="1.1" stroke-dasharray="5,2" />
<path d="M797.9,85.4 L798.7,85.7 L799.4,86.2 L800.1,86.8 L800.8,87.5 L801.5,88.3 L802.2,89.3 L802.8,90.3 L803.4,91.4 L803.9,92.6 L804.4,93.9 L804.9,95.3 L805.3,96.8 L805.7,98.3 L806.0,99.8 L806.3,101.4 L806.6,103.1 L806.8,104.8 L806.9,106.5 L807.0,108.3 L807.0,110.0 L807.0,111.7 L806.9,113.5 L806.8,115.2 L806.6,116.9 L806.3,118.6 L806.0,120.2 L805.7,121.7 L805.3,123.2 L804.9,124.7 L804.4,126.1 L803.9,127.4 L803.4,128.6 L802.8,129.7 L802.2,130.7 L801.5,131.7 L800.8,132.5 L800.1,133.2 L799.4,133.8 L798.7,134.3 L797.9,134.6" fill="none" stroke="#000" stroke-width="1.4"/>
<rect x="797.4" y="84.0" width="6.4" height="6.4" fill="#fff" stroke="#000" stroke-width="1.5"/>
<rect x="801.0" y="89.0" width="6.4" height="6.4" fill="#fff" stroke="#000" stroke-width="1.5"/>
<rect x="803.4" y="97.0" width="6.4" height="6.4" fill="#fff" stroke="#000" stroke-width="1.5"/>
<rect x="804.3" y="106.8" width="6.4" height="6.4" fill="#fff" stroke="#000" stroke-width="1.5"/>
<rect x="803.4" y="116.6" width="6.4" height="6.4" fill="#fff" stroke="#000" stroke-width="1.5"/>
<rect x="801.0" y="124.6" width="6.4" height="6.4" fill="#fff" stroke="#000" stroke-width="1.5"/>
<rect x="797.4" y="129.6" width="6.4" height="6.4" fill="#fff" stroke="#000" stroke-width="1.5"/>
<path d="M789,86 L797,84 L800,89 L792,91 Z" fill="#000" stroke="#000" stroke-width="0.8" />
<path d="M791,131 L799,128 L802,134 L794,136 Z" fill="#000" stroke="#000" stroke-width="0.8" />
<ellipse cx="798.0" cy="101.0" rx="1.5" ry="2.0" fill="#000" stroke="#000" stroke-width="0.5" />
<ellipse cx="800.0" cy="121.0" rx="1.5" ry="2.0" fill="#000" stroke="#000" stroke-width="0.5" />
<ellipse cx="852.0" cy="108.0" rx="33.0" ry="61.0" fill="none" stroke="#000" stroke-width="0.8" stroke-dasharray="9,8" />
<path d="M821.0,87.1 L821.3,85.6 L821.6,84.1 L822.0,82.6 L822.4,81.1 L822.8,79.6 L823.2,78.1 L823.7,76.7 L824.1,75.3 L824.6,73.9 L825.1,72.6 L825.7,71.2 L826.2,69.9 L826.8,68.7 L827.4,67.4 L828.0,66.2 L828.6,65.0 L829.2,63.9 L829.9,62.7 L830.5,61.6 L831.2,60.6 L831.9,59.6 L832.6,58.6 L833.4,57.6 L834.1,56.7 L834.9,55.9 L835.6,55.0 L836.4,54.2 L837.2,53.5 L838.0,52.7 L838.8,52.1 L839.7,51.4 L840.5,50.8 L841.3,50.3 L842.2,49.8 L843.0,49.3 L843.9,48.9 L844.8,48.5 L845.6,48.1 L846.5,47.8 L847.4,47.6" fill="none" stroke="#000" stroke-width="1.2" stroke-dasharray="6,2"/>
<path d="M821.9,83.1 L822.2,81.9 L822.5,80.8 L822.8,79.6 L823.2,78.5 L823.5,77.4 L823.9,76.3 L824.2,75.2 L824.6,74.2 L825.0,73.1 L825.4,72.1 L825.8,71.1 L826.3,70.1 L826.7,69.1 L827.1,68.1 L827.6,67.2 L828.1,66.3 L828.6,65.4 L829.1,64.5 L829.6,63.6 L830.1,62.8 L830.6,62.0 L831.1,61.2 L831.7,60.4 L832.2,59.7 L832.8,58.9 L833.3,58.2 L833.9,57.6 L834.5,56.9 L835.1,56.3 L835.7,55.7 L836.3,55.1 L836.9,54.5 L837.5,54.0 L838.1,53.5 L838.8,53.0 L839.4,52.6 L840.0,52.1 L840.7,51.7 L841.3,51.4 L842.0,51.0" fill="none" stroke="#000" stroke-width="0.8" stroke-dasharray="4,3"/>
<path d="M850.8,169.0 L850.4,168.9 L849.9,168.9 L849.4,168.8 L849.0,168.7 L848.5,168.7 L848.0,168.6 L847.5,168.4 L847.1,168.3 L846.6,168.2 L846.1,168.0 L845.7,167.9 L845.2,167.7 L844.7,167.5 L844.3,167.3 L843.8,167.1 L843.3,166.9 L842.9,166.6 L842.4,166.4 L842.0,166.1 L841.5,165.8 L841.1,165.6 L840.6,165.3 L840.2,165.0 L839.7,164.6 L839.3,164.3 L838.9,164.0 L838.4,163.6 L838.0,163.2 L837.6,162.9 L837.1,162.5 L836.7,162.1 L836.3,161.7 L835.9,161.2 L835.5,160.8 L835.1,160.4 L834.7,159.9 L834.3,159.4 L833.9,159.0 L833.5,158.5 L833.1,158.0" fill="none" stroke="#000" stroke-width="1.5"/>
<path d="M849.3,166.3 L849.0,166.2 L848.6,166.2 L848.3,166.1 L848.0,166.0 L847.6,165.9 L847.3,165.8 L847.0,165.7 L846.6,165.6 L846.3,165.5 L846.0,165.4 L845.6,165.2 L845.3,165.1 L845.0,165.0 L844.6,164.8 L844.3,164.7 L844.0,164.5 L843.7,164.3 L843.3,164.2 L843.0,164.0 L842.7,163.8 L842.4,163.6 L842.0,163.4 L841.7,163.2 L841.4,163.0 L841.1,162.8 L840.8,162.5 L840.4,162.3 L840.1,162.0 L839.8,161.8 L839.5,161.5 L839.2,161.3 L838.9,161.0 L838.6,160.7 L838.3,160.5 L838.0,160.2 L837.7,159.9 L837.4,159.6 L837.1,159.3 L836.8,159.0 L836.5,158.7" fill="none" stroke="#000" stroke-width="1"/>
<path d="M823.0,125.0 L822.7,125.0 L822.4,124.8 L822.1,124.6 L821.8,124.3 L821.5,123.9 L821.2,123.4 L820.9,122.8 L820.6,122.1 L820.4,121.4 L820.2,120.6 L820.0,119.7 L819.8,118.8 L819.6,117.8 L819.4,116.8 L819.3,115.7 L819.2,114.6 L819.1,113.5 L819.0,112.3 L819.0,111.2 L819.0,110.0 L819.0,108.8 L819.0,107.7 L819.1,106.5 L819.2,105.4 L819.3,104.3 L819.4,103.2 L819.6,102.2 L819.8,101.2 L820.0,100.3 L820.2,99.4 L820.4,98.6 L820.6,97.9 L820.9,97.2 L821.2,96.6 L821.5,96.1 L821.8,95.7 L822.1,95.4 L822.4,95.2 L822.7,95.0 L823.0,95.0" fill="none" stroke="#000" stroke-width="1" stroke-dasharray="4,2"/>
<path d="M821.9,81.0 L821.8,80.5 L821.8,80.0 L821.7,79.4 L821.7,78.9 L821.6,78.4 L821.6,77.8 L821.6,77.2 L821.5,76.7 L821.5,76.1 L821.5,75.5 L821.5,74.9 L821.5,74.4 L821.5,73.8 L821.5,73.2 L821.6,72.7 L821.6,72.1 L821.6,71.5 L821.7,71.0 L821.7,70.5 L821.8,69.9 L821.8,69.4 L821.9,68.9 L822.0,68.4 L822.1,67.9 L822.2,67.5 L822.3,67.0 L822.4,66.6 L822.5,66.2 L822.6,65.8 L822.7,65.5 L822.8,65.1 L822.9,64.8 L823.0,64.5 L823.2,64.3 L823.3,64.0 L823.4,63.8 L823.6,63.6 L823.7,63.4 L823.8,63.3 L824.0,63.2" fill="none" stroke="#000" stroke-width="0.9" stroke-dasharray="3,2"/>
<path d="M856,49 C862,46 868,47 872,50 L876,56 L873,58" fill="none" stroke="#000" stroke-width="1.3" />
<path d="M880,57 L877,64 L882,66" fill="none" stroke="#000" stroke-width="1" />
<path d="M878,162 C872,166 866,168 860,168" fill="none" stroke="#000" stroke-width="0.9" stroke-dasharray="4,2" />
<path d="M68.9,398.9 L66.1,397.7 L63.4,396.3 L60.8,394.6 L58.3,392.7 L55.9,390.5 L53.6,388.1 L51.4,385.5 L49.3,382.7 L47.3,379.7 L45.5,376.5 L43.9,373.2 L42.4,369.7 L41.1,366.0 L40.0,362.3 L39.0,358.5 L38.2,354.6 L37.7,350.6 L37.2,346.5 L37.0,342.5 L37.0,338.4 L37.2,334.3 L37.5,330.3 L38.1,326.3 L38.8,322.4 L39.8,318.5 L40.9,314.8 L42.1,311.1 L43.6,307.6 L45.2,304.2 L46.9,301.0 L48.8,298.0 L50.9,295.1 L53.1,292.4 L55.4,290.0 L57.8,287.8 L60.3,285.8 L62.9,284.0 L65.5,282.6 L68.3,281.3 L71.1,280.3" fill="none" stroke="#000" stroke-width="0.8" stroke-dasharray="2,5"/>
<rect x="64.1" y="394.8" width="2.6" height="5" fill="#000"/>
<line x1="62.8" y1="394.8" x2="67.8" y2="394.8" stroke="#000" stroke-width="0.9"/>
<rect x="54.4" y="387.8" width="2.6" height="5" fill="#000"/>
<line x1="53.1" y1="387.8" x2="58.1" y2="387.8" stroke="#000" stroke-width="0.9"/>
<rect x="46.3" y="377.5" width="2.6" height="5" fill="#000"/>
<line x1="45.0" y1="377.5" x2="50.0" y2="377.5" stroke="#000" stroke-width="0.9"/>
<rect x="40.3" y="364.7" width="2.6" height="5" fill="#000"/>
<line x1="39.0" y1="364.7" x2="44.0" y2="364.7" stroke="#000" stroke-width="0.9"/>
<rect x="36.7" y="350.2" width="2.6" height="5" fill="#000"/>
<line x1="35.4" y1="350.2" x2="40.4" y2="350.2" stroke="#000" stroke-width="0.9"/>
<rect x="35.8" y="334.8" width="2.6" height="5" fill="#000"/>
<line x1="34.5" y1="334.8" x2="39.5" y2="334.8" stroke="#000" stroke-width="0.9"/>
<rect x="37.7" y="319.7" width="2.6" height="5" fill="#000"/>
<line x1="36.4" y1="319.7" x2="41.4" y2="319.7" stroke="#000" stroke-width="0.9"/>
<rect x="42.1" y="305.6" width="2.6" height="5" fill="#000"/>
<line x1="40.8" y1="305.6" x2="45.8" y2="305.6" stroke="#000" stroke-width="0.9"/>
<rect x="48.9" y="293.6" width="2.6" height="5" fill="#000"/>
<line x1="47.6" y1="293.6" x2="52.6" y2="293.6" stroke="#000" stroke-width="0.9"/>
<rect x="57.6" y="284.4" width="2.6" height="5" fill="#000"/>
<line x1="56.3" y1="284.4" x2="61.3" y2="284.4" stroke="#000" stroke-width="0.9"/>
<rect x="67.7" y="278.6" width="2.6" height="5" fill="#000"/>
<line x1="66.4" y1="278.6" x2="71.4" y2="278.6" stroke="#000" stroke-width="0.9"/>
<ellipse cx="87.5" cy="340.5" rx="25.0" ry="52.5" fill="none" stroke="#000" stroke-width="1" stroke-dasharray="7,2" />
<ellipse cx="90.0" cy="340.5" rx="22.0" ry="49.0" fill="none" stroke="#000" stroke-width="0.8" stroke-dasharray="3,3" />
<path d="M85.6,293.0 L87.0,293.6 L88.3,294.4 L89.6,295.5 L90.8,296.8 L92.1,298.3 L93.2,300.1 L94.4,302.0 L95.4,304.2 L96.4,306.5 L97.3,309.0 L98.2,311.7 L99.0,314.5 L99.7,317.4 L100.3,320.5 L100.8,323.7 L101.2,326.9 L101.6,330.3 L101.8,333.7 L102.0,337.1 L102.0,340.5 L102.0,343.9 L101.8,347.3 L101.6,350.7 L101.2,354.1 L100.8,357.3 L100.3,360.5 L99.7,363.6 L99.0,366.5 L98.2,369.3 L97.3,372.0 L96.4,374.5 L95.4,376.8 L94.4,379.0 L93.2,380.9 L92.1,382.7 L90.8,384.2 L89.6,385.5 L88.3,386.6 L87.0,387.4 L85.6,388.0" fill="none" stroke="#000" stroke-width="3.8"/>
<path d="M88.6,293.0 L90.0,293.6 L91.3,294.4 L92.6,295.5 L93.8,296.8 L95.1,298.3 L96.2,300.1 L97.4,302.0 L98.4,304.2 L99.4,306.5 L100.3,309.0 L101.2,311.7 L102.0,314.5 L102.7,317.4 L103.3,320.5 L103.8,323.7 L104.2,326.9 L104.6,330.3 L104.8,333.7 L105.0,337.1 L105.0,340.5 L105.0,343.9 L104.8,347.3 L104.6,350.7 L104.2,354.1 L103.8,357.3 L103.3,360.5 L102.7,363.6 L102.0,366.5 L101.2,369.3 L100.3,372.0 L99.4,374.5 L98.4,376.8 L97.4,379.0 L96.2,380.9 L95.1,382.7 L93.8,384.2 L92.6,385.5 L91.3,386.6 L90.0,387.4 L88.6,388.0" fill="none" stroke="#000" stroke-width="1"/>
<path d="M91.0,309.6 L91.6,310.5 L92.2,311.5 L92.8,312.6 L93.4,313.7 L93.9,315.0 L94.4,316.2 L94.9,317.6 L95.3,319.0 L95.7,320.5 L96.1,322.0 L96.5,323.6 L96.8,325.2 L97.1,326.8 L97.3,328.5 L97.5,330.2 L97.7,331.9 L97.8,333.7 L97.9,335.4 L98.0,337.2 L98.0,339.0 L98.0,340.8 L97.9,342.6 L97.8,344.3 L97.7,346.1 L97.5,347.8 L97.3,349.5 L97.1,351.2 L96.8,352.8 L96.5,354.4 L96.1,356.0 L95.7,357.5 L95.3,359.0 L94.9,360.4 L94.4,361.8 L93.9,363.0 L93.4,364.3 L92.8,365.4 L92.2,366.5 L91.6,367.5 L91.0,368.4" fill="none" stroke="#000" stroke-width="1"/>
<path d="M72,306 C80,310 88,320 91,338 C88,355 80,366 72,372 C75,350 75,328 72,306 Z" fill="none" stroke="#000" stroke-width="1.3" />
<path d="M74,308 L84,312 L86,322 L78,320 Z" fill="none" stroke="#000" stroke-width="1.2" />
<path d="M73,360 L84,356 L86,365 L76,371 Z" fill="none" stroke="#000" stroke-width="1.6" />
<rect x="81" y="327" width="6" height="5" fill="none" stroke="#000" stroke-width="0.9"/>
<rect x="81" y="334" width="6" height="5" fill="none" stroke="#000" stroke-width="0.9"/>
<rect x="81" y="341" width="6" height="5" fill="none" stroke="#000" stroke-width="0.9"/>
<rect x="81" y="348" width="6" height="5" fill="none" stroke="#000" stroke-width="0.9"/>
<line x1="73.0" y1="364.0" x2="80.0" y2="372.0" stroke="#000" stroke-width="2.2"/>
<path d="M51,421 C49,416 55,414 57,417 L60,420 L66,418 M52,424 C53,428 58,428 60,424" fill="none" stroke="#000" stroke-width="1.5" />
<path d="M137,289 C147,284 160,282 172,282.5 L192,289" fill="none" stroke="#000" stroke-width="2.2" />
<path d="M137,386 C147,391 158,393 170,393 L198,380" fill="none" stroke="#000" stroke-width="2.2" />
<rect x="155.4" y="385.1" width="22" height="5.6" fill="#fff" stroke="#000" stroke-width="1.3"/>
<line x1="157.4" y1="386.7" x2="175.4" y2="386.7" stroke="#000" stroke-width="0.8" stroke-dasharray="5,2"/>
<rect x="147.9" y="380.8" width="22" height="5.6" fill="#fff" stroke="#000" stroke-width="1.3"/>
<line x1="149.9" y1="382.4" x2="167.9" y2="382.4" stroke="#000" stroke-width="0.8" stroke-dasharray="5,2"/>
<rect x="141.2" y="374.3" width="22" height="5.6" fill="#fff" stroke="#000" stroke-width="1.3"/>
<line x1="143.2" y1="375.9" x2="161.2" y2="375.9" stroke="#000" stroke-width="0.8" stroke-dasharray="5,2"/>
<rect x="135.6" y="366.0" width="22" height="5.6" fill="#fff" stroke="#000" stroke-width="1.3"/>
<line x1="137.6" y1="367.6" x2="155.6" y2="367.6" stroke="#000" stroke-width="0.8" stroke-dasharray="5,2"/>
<rect x="131.5" y="356.3" width="22" height="5.6" fill="#fff" stroke="#000" stroke-width="1.3"/>
<line x1="133.5" y1="357.9" x2="151.5" y2="357.9" stroke="#000" stroke-width="0.8" stroke-dasharray="5,2"/>
<rect x="128.9" y="345.5" width="22" height="5.6" fill="#fff" stroke="#000" stroke-width="1.3"/>
<line x1="130.9" y1="347.1" x2="148.9" y2="347.1" stroke="#000" stroke-width="0.8" stroke-dasharray="5,2"/>
<rect x="128.0" y="334.2" width="22" height="5.6" fill="#fff" stroke="#000" stroke-width="1.3"/>
<line x1="130.0" y1="335.8" x2="148.0" y2="335.8" stroke="#000" stroke-width="0.8" stroke-dasharray="5,2"/>
<rect x="128.9" y="322.9" width="22" height="5.6" fill="#fff" stroke="#000" stroke-width="1.3"/>
<line x1="130.9" y1="324.5" x2="148.9" y2="324.5" stroke="#000" stroke-width="0.8" stroke-dasharray="5,2"/>
<rect x="131.5" y="312.1" width="22" height="5.6" fill="#fff" stroke="#000" stroke-width="1.3"/>
<line x1="133.5" y1="313.7" x2="151.5" y2="313.7" stroke="#000" stroke-width="0.8" stroke-dasharray="5,2"/>
<rect x="135.6" y="302.4" width="22" height="5.6" fill="#fff" stroke="#000" stroke-width="1.3"/>
<line x1="137.6" y1="304.0" x2="155.6" y2="304.0" stroke="#000" stroke-width="0.8" stroke-dasharray="5,2"/>
<rect x="141.2" y="294.1" width="22" height="5.6" fill="#fff" stroke="#000" stroke-width="1.3"/>
<line x1="143.2" y1="295.7" x2="161.2" y2="295.7" stroke="#000" stroke-width="0.8" stroke-dasharray="5,2"/>
<rect x="147.9" y="287.6" width="22" height="5.6" fill="#fff" stroke="#000" stroke-width="1.3"/>
<line x1="149.9" y1="289.2" x2="167.9" y2="289.2" stroke="#000" stroke-width="0.8" stroke-dasharray="5,2"/>
<rect x="155.4" y="283.3" width="22" height="5.6" fill="#fff" stroke="#000" stroke-width="1.3"/>
<line x1="157.4" y1="284.9" x2="175.4" y2="284.9" stroke="#000" stroke-width="0.8" stroke-dasharray="5,2"/>
<path d="M159.4,389.2 L156.8,388.4 L154.3,387.4 L151.8,386.1 L149.3,384.6 L147.0,382.9 L144.8,380.9 L142.6,378.8 L140.6,376.4 L138.7,373.8 L136.9,371.1 L135.3,368.2 L133.8,365.1 L132.4,361.9 L131.3,358.6 L130.3,355.1 L129.5,351.6 L128.8,348.0 L128.4,344.4 L128.1,340.7 L128.0,337.0 L128.1,333.3 L128.4,329.6 L128.8,326.0 L129.5,322.4 L130.3,318.9 L131.3,315.4 L132.4,312.1 L133.8,308.9 L135.3,305.8 L136.9,302.9 L138.7,300.2 L140.6,297.6 L142.6,295.2 L144.8,293.1 L147.0,291.1 L149.3,289.4 L151.8,287.9 L154.3,286.6 L156.8,285.6 L159.4,284.8" fill="none" stroke="#000" stroke-width="1.2"/>
<path d="M170,289.5 L192,290 L187,310 L170,311 Z" fill="#000" stroke="#000" stroke-width="0.5" />
<path d="M154,320 L178,320 L179,354 L155,354 Z" fill="#000" stroke="#000" stroke-width="0.5" />
<path d="M172,366 L196,367 L202,386 L174,391 Z" fill="#000" stroke="#000" stroke-width="0.5" />
<line x1="156.0" y1="326.0" x2="177.0" y2="322.0" stroke="#fff" stroke-width="1"/>
<line x1="156.0" y1="331.0" x2="177.0" y2="327.0" stroke="#fff" stroke-width="1"/>
<line x1="156.0" y1="336.0" x2="177.0" y2="332.0" stroke="#fff" stroke-width="1"/>
<line x1="156.0" y1="341.0" x2="177.0" y2="337.0" stroke="#fff" stroke-width="1"/>
<line x1="156.0" y1="346.0" x2="177.0" y2="342.0" stroke="#fff" stroke-width="1"/>
<line x1="156.0" y1="351.0" x2="177.0" y2="347.0" stroke="#fff" stroke-width="1"/>
<line x1="171.0" y1="294.0" x2="188.0" y2="292.0" stroke="#fff" stroke-width="1"/>
<line x1="174.0" y1="370.0" x2="198.0" y2="370.0" stroke="#fff" stroke-width="1"/>
<line x1="171.0" y1="299.0" x2="188.0" y2="297.0" stroke="#fff" stroke-width="1"/>
<line x1="174.0" y1="376.0" x2="198.0" y2="376.0" stroke="#fff" stroke-width="1"/>
<line x1="171.0" y1="304.0" x2="188.0" y2="302.0" stroke="#fff" stroke-width="1"/>
<line x1="174.0" y1="382.0" x2="198.0" y2="382.0" stroke="#fff" stroke-width="1"/>
<ellipse cx="203.0" cy="334.0" rx="22.0" ry="44.0" fill="none" stroke="#000" stroke-width="1.2" stroke-dasharray="5,2" />
<ellipse cx="208.0" cy="336.0" rx="14.0" ry="27.0" fill="none" stroke="#000" stroke-width="1" stroke-dasharray="3,2" />
<path d="M212.8,313.3 L213.5,313.7 L214.2,314.1 L214.9,314.7 L215.6,315.3 L216.2,316.1 L216.9,316.9 L217.5,317.9 L218.0,318.9 L218.6,320.0 L219.0,321.2 L219.5,322.5 L219.9,323.8 L220.3,325.2 L220.6,326.6 L220.9,328.1 L221.1,329.7 L221.3,331.2 L221.4,332.8 L221.5,334.4 L221.5,336.0 L221.5,337.6 L221.4,339.2 L221.3,340.8 L221.1,342.3 L220.9,343.9 L220.6,345.4 L220.3,346.8 L219.9,348.2 L219.5,349.5 L219.0,350.8 L218.6,352.0 L218.0,353.1 L217.5,354.1 L216.9,355.1 L216.2,355.9 L215.6,356.7 L214.9,357.3 L214.2,357.9 L213.5,358.3 L212.8,358.7" fill="none" stroke="#000" stroke-width="5.5"/>
<path d="M212.8,358.7 L211.9,358.9 L211.0,359.0 L210.1,358.9 L209.2,358.7 L208.3,358.2 L207.4,357.6 L206.6,356.8 L205.8,355.9 L205.0,354.8 L204.3,353.6 L203.6,352.3 L203.0,350.8 L202.4,349.2 L201.9,347.5 L201.5,345.7 L201.1,343.9 L200.9,342.0 L200.7,340.0 L200.5,338.0 L200.5,336.0 L200.5,334.0 L200.7,332.0 L200.9,330.0 L201.1,328.1 L201.5,326.3 L201.9,324.5 L202.4,322.8 L203.0,321.2 L203.6,319.7 L204.3,318.4 L205.0,317.2 L205.8,316.1 L206.6,315.2 L207.4,314.4 L208.3,313.8 L209.2,313.3 L210.1,313.1 L211.0,313.0 L211.9,313.1 L212.8,313.3" fill="none" stroke="#000" stroke-width="2"/>
<path d="M211.0,318.5 L211.3,318.5 L211.6,318.6 L211.9,318.7 L212.6,317.5 L212.9,317.7 L213.3,318.1 L213.7,318.4 L213.4,320.2 L213.7,320.7 L213.9,321.2 L214.2,321.7 L215.4,321.1 L215.7,321.8 L215.9,322.6 L216.2,323.3 L215.3,325.1 L215.5,325.9 L215.7,326.7 L215.8,327.5 L217.3,327.8 L217.5,328.7 L217.6,329.7 L217.7,330.7 L216.4,332.1 L216.4,333.1 L216.5,334.0 L216.5,335.0 L218.0,336.0 L218.0,337.1 L218.0,338.1 L217.9,339.2 L216.4,339.9 L216.3,340.8 L216.2,341.8 L216.1,342.7 L217.3,344.2 L217.1,345.2 L216.9,346.1 L216.7,347.0 L215.3,346.9 L215.1,347.7 L214.9,348.4 L214.7,349.0 L215.4,350.9 L215.1,351.5 L214.7,352.1 L214.4,352.6 L213.4,351.8 L213.1,352.2 L212.8,352.5 L212.5,352.8 L212.6,354.5 L212.2,354.7 L211.8,354.9 L211.4,355.0 L211.0,353.5 L210.7,353.5 L210.4,353.4 L210.1,353.3 L209.4,354.5 L209.1,354.3 L208.7,353.9 L208.3,353.6 L208.6,351.8 L208.3,351.3 L208.1,350.8 L207.8,350.3 L206.6,350.9 L206.3,350.2 L206.1,349.4 L205.8,348.7 L206.7,346.9 L206.5,346.1 L206.3,345.3 L206.2,344.5 L204.7,344.2 L204.5,343.3 L204.4,342.3 L204.3,341.3 L205.6,339.9 L205.6,338.9 L205.5,338.0 L205.5,337.0 L204.0,336.0 L204.0,334.9 L204.0,333.9 L204.1,332.8 L205.6,332.1 L205.7,331.2 L205.8,330.2 L205.9,329.3 L204.7,327.8 L204.9,326.8 L205.1,325.9 L205.3,325.0 L206.7,325.1 L206.9,324.3 L207.1,323.6 L207.3,323.0 L206.6,321.1 L206.9,320.5 L207.3,319.9 L207.6,319.4 L208.6,320.2 L208.9,319.8 L209.2,319.5 L209.5,319.2 L209.4,317.5 L209.8,317.3 L210.2,317.1 L210.6,317.0 L211.0,318.5" fill="none" stroke="#000" stroke-width="1"/>
<path d="M186,312 C183,320 182,330 183,342" fill="none" stroke="#000" stroke-width="1" />
<ellipse cx="270.0" cy="336.0" rx="30.0" ry="61.0" fill="#fff" stroke="#000" stroke-width="1.1" stroke-dasharray="9,1.5" />
<ellipse cx="271.5" cy="336.0" rx="28.0" ry="58.5" fill="none" stroke="#000" stroke-width="0.8" stroke-dasharray="5,2" />
<path d="M273.3,284.0 L274.0,284.7 L274.7,285.4 L275.4,286.2 L276.0,287.1 L276.7,286.6 L277.5,286.2 L278.3,285.9 L279.2,285.6 L279.7,286.8 L280.2,288.0 L280.6,289.3 L281.0,290.6 L281.9,290.6 L282.8,290.8 L283.7,291.0 L284.7,291.3 L285.0,292.9 L285.2,294.5 L285.3,296.1 L285.4,297.7 L286.4,298.3 L287.4,299.0 L288.4,299.8 L289.4,300.6 L289.4,302.4 L289.3,304.3 L289.1,306.1 L289.0,308.0 L289.9,309.1 L290.9,310.2 L291.8,311.5 L292.8,312.8 L292.5,314.7 L292.1,316.7 L291.7,318.6 L291.3,320.5 L292.1,322.0 L293.0,323.5 L293.8,325.1 L294.7,326.8 L294.1,328.7 L293.5,330.6 L292.9,332.5 L292.2,334.3 L292.9,336.0 L293.6,337.8 L294.2,339.7 L294.9,341.6 L294.1,343.3 L293.3,345.0 L292.5,346.6 L291.6,348.2 L292.1,350.1 L292.6,352.0 L293.0,354.0 L293.4,355.9 L292.5,357.3 L291.5,358.7 L290.6,359.9 L289.6,361.1 L289.9,363.0 L290.1,364.9 L290.2,366.8 L290.3,368.7 L289.3,369.6 L288.3,370.5 L287.4,371.3 L286.4,372.0 L286.4,373.7 L286.3,375.4 L286.2,377.1 L286.0,378.7 L285.0,379.2 L284.0,379.5 L283.0,379.8 L282.1,380.0 L281.8,381.4 L281.5,382.8 L281.1,384.1 L280.6,385.4 L279.7,385.2 L278.8,385.0 L278.0,384.8 L277.2,384.4 L276.7,385.4 L276.1,386.3 L275.4,387.2 L274.7,388.0 L274.0,387.3 L273.3,386.6 L272.6,385.8 L272.0,384.9 L271.3,385.4 L270.5,385.8 L269.7,386.1 L268.8,386.4 L268.3,385.2 L267.8,384.0 L267.4,382.7 L267.0,381.4 L266.1,381.4 L265.2,381.2 L264.3,381.0 L263.3,380.7 L263.0,379.1 L262.8,377.5 L262.7,375.9 L262.6,374.3 L261.6,373.7 L260.6,373.0 L259.6,372.2 L258.6,371.4 L258.6,369.6 L258.7,367.7 L258.9,365.9 L259.0,364.0 L258.1,362.9 L257.1,361.8 L256.2,360.5 L255.2,359.2 L255.5,357.3 L255.9,355.3 L256.3,353.4 L256.7,351.5 L255.9,350.0 L255.0,348.5 L254.2,346.9 L253.3,345.2 L253.9,343.3 L254.5,341.4 L255.1,339.5 L255.8,337.7 L255.1,336.0 L254.4,334.2 L253.8,332.3 L253.1,330.4 L253.9,328.7 L254.7,327.0 L255.5,325.4 L256.4,323.8 L255.9,321.9 L255.4,320.0 L255.0,318.0 L254.6,316.1 L255.5,314.7 L256.5,313.3 L257.4,312.1 L258.4,310.9 L258.1,309.0 L257.9,307.1 L257.8,305.2 L257.7,303.3 L258.7,302.4 L259.7,301.5 L260.6,300.7 L261.6,300.0 L261.6,298.3 L261.7,296.6 L261.8,294.9 L262.0,293.3 L263.0,292.8 L264.0,292.5 L265.0,292.2 L265.9,292.0 L266.2,290.6 L266.5,289.2 L266.9,287.9 L267.4,286.6 L268.3,286.8 L269.2,287.0 L270.0,287.2 L270.8,287.6 L271.3,286.6 L271.9,285.7 L272.6,284.8 L273.3,284.0" fill="none" stroke="#000" stroke-width="1.6"/>
<rect x="253.3" y="382.0" width="3" height="3" fill="#000"/>
<rect x="248.6" y="372.9" width="3" height="3" fill="#000"/>
<rect x="245.0" y="361.7" width="3" height="3" fill="#000"/>
<rect x="242.7" y="349.0" width="3" height="3" fill="#000"/>
<rect x="241.8" y="335.5" width="3" height="3" fill="#000"/>
<rect x="242.4" y="321.9" width="3" height="3" fill="#000"/>
<rect x="244.5" y="309.1" width="3" height="3" fill="#000"/>
<rect x="248.0" y="297.6" width="3" height="3" fill="#000"/>
<rect x="252.6" y="288.2" width="3" height="3" fill="#000"/>
<path d="M294.0,274.0 L294.9,273.3 L295.8,272.5 L296.8,271.9 L297.8,271.2 L298.7,272.2 L299.6,273.2 L300.4,274.3 L301.2,275.4 L302.2,275.1 L303.3,274.8 L304.4,274.7 L305.6,274.6 L306.3,275.9 L306.9,277.4 L307.5,278.8 L308.0,280.3 L309.2,280.5 L310.3,280.8 L311.6,281.1 L312.8,281.6 L313.2,283.3 L313.5,285.1 L313.9,286.8 L314.1,288.6 L315.3,289.3 L316.5,290.1 L317.7,290.9 L318.9,291.8 L319.0,293.8 L319.1,295.8 L319.1,297.8 L319.1,299.8 L320.2,301.0 L321.4,302.2 L322.5,303.5 L323.7,304.8 L323.5,306.9 L323.3,309.0 L323.0,311.1 L322.7,313.2 L323.7,314.8 L324.7,316.3 L325.7,318.0 L326.7,319.7 L326.3,321.8 L325.8,324.0 L325.2,326.0 L324.6,328.1 L325.5,329.9 L326.4,331.8 L327.2,333.7 L328.0,335.7 L327.2,337.7 L326.5,339.7 L325.7,341.6 L324.9,343.5 L325.5,345.5 L326.2,347.6 L326.7,349.6 L327.3,351.8 L326.3,353.6 L325.4,355.3 L324.4,357.0 L323.4,358.6 L323.8,360.7 L324.2,362.8 L324.5,364.9 L324.7,367.0 L323.6,368.5 L322.5,369.9 L321.4,371.2 L320.3,372.5 L320.4,374.5 L320.5,376.6 L320.5,378.6 L320.4,380.7 L319.2,381.7 L318.0,382.7 L316.8,383.6 L315.7,384.4 L315.5,386.3 L315.3,388.1 L315.0,390.0 L314.7,391.8 L313.4,392.3 L312.2,392.8 L311.0,393.3 L309.9,393.6 L309.4,395.2 L308.9,396.8 L308.4,398.3 L307.8,399.8 L306.6,399.8 L305.4,399.8 L304.3,399.7 L303.2,399.6 L302.5,400.8 L301.8,402.0 L301.0,403.1 L300.1,404.2 L299.0,403.7 L298.0,403.2 L297.0,402.6 L296.0,402.0 L295.1,402.7 L294.2,403.5 L293.2,404.1 L292.2,404.8 L291.3,403.8 L290.4,402.8 L289.6,401.7 L288.8,400.6 L287.8,400.9 L286.7,401.2 L285.6,401.3 L284.4,401.4 L283.7,400.1 L283.1,398.6 L282.5,397.2 L282.0,395.7 L280.8,395.5 L279.7,395.2 L278.4,394.9 L277.2,394.4 L276.8,392.7 L276.5,390.9 L276.1,389.2 L275.9,387.4 L274.7,386.7 L273.5,385.9 L272.3,385.1 L271.1,384.2 L271.0,382.2 L270.9,380.2 L270.9,378.2 L270.9,376.2 L269.8,375.0 L268.6,373.8 L267.5,372.5 L266.3,371.2 L266.5,369.1 L266.7,367.0 L267.0,364.9 L267.3,362.8 L266.3,361.2 L265.3,359.7 L264.3,358.0 L263.3,356.3 L263.7,354.2 L264.2,352.0 L264.8,350.0 L265.4,347.9 L264.5,346.1 L263.6,344.2 L262.8,342.3 L262.0,340.3 L262.8,338.3 L263.5,336.3 L264.3,334.4 L265.1,332.5 L264.5,330.5 L263.8,328.4 L263.3,326.4 L262.7,324.2 L263.7,322.4 L264.6,320.7 L265.6,319.0 L266.6,317.4 L266.2,315.3 L265.8,313.2 L265.5,311.1 L265.3,309.0 L266.4,307.5 L267.5,306.1 L268.6,304.8 L269.7,303.5 L269.6,301.5 L269.5,299.4 L269.5,297.4 L269.6,295.3 L270.8,294.3 L272.0,293.3 L273.2,292.4 L274.3,291.6 L274.5,289.7 L274.7,287.9 L275.0,286.0 L275.3,284.2 L276.6,283.7 L277.8,283.2 L279.0,282.7 L280.1,282.4 L280.6,280.8 L281.1,279.2 L281.6,277.7 L282.2,276.2 L283.4,276.2 L284.6,276.2 L285.7,276.3 L286.8,276.4 L287.5,275.2 L288.2,274.0 L289.0,272.9 L289.9,271.8 L291.0,272.3 L292.0,272.8 L293.0,273.4 L294.0,274.0" fill="#fff" stroke="#000" stroke-width="1.4"/>
<ellipse cx="297.0" cy="338.0" rx="25.0" ry="58.0" fill="none" stroke="#000" stroke-width="0.8" stroke-dasharray="4,3" />
<ellipse cx="300.0" cy="338.0" rx="18.0" ry="52.0" fill="none" stroke="#000" stroke-width="1" stroke-dasharray="7,2" />
<ellipse cx="322.0" cy="335.0" rx="30.0" ry="63.0" fill="#fff" stroke="#000" stroke-width="1.1" stroke-dasharray="9,1.5" />
<ellipse cx="323.5" cy="335.0" rx="28.0" ry="60.5" fill="none" stroke="#000" stroke-width="0.8" stroke-dasharray="5,2" />
<path d="M325.3,281.0 L326.0,281.7 L326.7,282.4 L327.4,283.2 L328.0,284.1 L328.7,283.6 L329.5,283.2 L330.3,282.9 L331.2,282.7 L331.7,283.9 L332.2,285.1 L332.6,286.4 L333.0,287.7 L333.9,287.8 L334.8,288.0 L335.7,288.2 L336.7,288.6 L337.0,290.2 L337.2,291.8 L337.3,293.5 L337.4,295.2 L338.4,295.8 L339.4,296.5 L340.4,297.3 L341.4,298.2 L341.4,300.1 L341.3,302.0 L341.1,303.9 L341.0,305.8 L341.9,307.0 L342.9,308.2 L343.8,309.5 L344.8,310.9 L344.5,312.9 L344.1,314.9 L343.7,316.9 L343.3,318.9 L344.1,320.4 L345.0,322.0 L345.8,323.7 L346.7,325.5 L346.1,327.5 L345.5,329.4 L344.9,331.3 L344.2,333.2 L344.9,335.0 L345.6,336.9 L346.2,338.8 L346.9,340.8 L346.1,342.6 L345.3,344.4 L344.5,346.1 L343.6,347.7 L344.1,349.7 L344.6,351.7 L345.0,353.7 L345.4,355.7 L344.5,357.2 L343.5,358.6 L342.6,359.9 L341.6,361.2 L341.9,363.1 L342.1,365.0 L342.2,367.0 L342.3,368.9 L341.3,369.9 L340.3,370.9 L339.4,371.7 L338.4,372.5 L338.4,374.3 L338.3,376.0 L338.2,377.7 L338.0,379.4 L337.0,379.9 L336.0,380.3 L335.0,380.6 L334.1,380.8 L333.8,382.2 L333.5,383.6 L333.1,385.0 L332.6,386.3 L331.7,386.2 L330.8,386.0 L330.0,385.7 L329.2,385.4 L328.7,386.4 L328.1,387.3 L327.4,388.2 L326.7,389.0 L326.0,388.3 L325.3,387.6 L324.6,386.8 L324.0,385.9 L323.3,386.4 L322.5,386.8 L321.7,387.1 L320.8,387.3 L320.3,386.1 L319.8,384.9 L319.4,383.6 L319.0,382.3 L318.1,382.2 L317.2,382.0 L316.3,381.8 L315.3,381.4 L315.0,379.8 L314.8,378.2 L314.7,376.5 L314.6,374.8 L313.6,374.2 L312.6,373.5 L311.6,372.7 L310.6,371.8 L310.6,369.9 L310.7,368.0 L310.9,366.1 L311.0,364.2 L310.1,363.0 L309.1,361.8 L308.2,360.5 L307.2,359.1 L307.5,357.1 L307.9,355.1 L308.3,353.1 L308.7,351.1 L307.9,349.6 L307.0,348.0 L306.2,346.3 L305.3,344.5 L305.9,342.5 L306.5,340.6 L307.1,338.7 L307.8,336.8 L307.1,335.0 L306.4,333.1 L305.8,331.2 L305.1,329.2 L305.9,327.4 L306.7,325.6 L307.5,323.9 L308.4,322.3 L307.9,320.3 L307.4,318.3 L307.0,316.3 L306.6,314.3 L307.5,312.8 L308.5,311.4 L309.4,310.1 L310.4,308.8 L310.1,306.9 L309.9,305.0 L309.8,303.0 L309.7,301.1 L310.7,300.1 L311.7,299.1 L312.6,298.3 L313.6,297.5 L313.6,295.7 L313.7,294.0 L313.8,292.3 L314.0,290.6 L315.0,290.1 L316.0,289.7 L317.0,289.4 L317.9,289.2 L318.2,287.8 L318.5,286.4 L318.9,285.0 L319.4,283.7 L320.3,283.8 L321.2,284.0 L322.0,284.3 L322.8,284.6 L323.3,283.6 L323.9,282.7 L324.6,281.8 L325.3,281.0" fill="none" stroke="#000" stroke-width="1.6"/>
<path d="M349.0,269.0 L349.9,268.3 L350.8,267.5 L351.8,266.9 L352.8,266.3 L353.7,267.2 L354.6,268.2 L355.4,269.3 L356.2,270.4 L357.2,270.1 L358.3,269.9 L359.4,269.7 L360.6,269.6 L361.3,271.0 L361.9,272.4 L362.5,273.9 L363.0,275.4 L364.2,275.6 L365.3,275.9 L366.6,276.3 L367.8,276.7 L368.2,278.5 L368.5,280.3 L368.9,282.1 L369.1,283.9 L370.3,284.6 L371.5,285.4 L372.7,286.2 L373.9,287.2 L374.0,289.2 L374.1,291.2 L374.1,293.2 L374.1,295.2 L375.2,296.4 L376.4,297.6 L377.5,298.9 L378.7,300.3 L378.5,302.5 L378.3,304.6 L378.0,306.7 L377.7,308.8 L378.7,310.4 L379.7,312.0 L380.7,313.7 L381.7,315.4 L381.3,317.6 L380.8,319.7 L380.2,321.8 L379.6,323.9 L380.5,325.8 L381.4,327.7 L382.2,329.6 L383.0,331.6 L382.2,333.7 L381.5,335.7 L380.7,337.7 L379.9,339.6 L380.5,341.6 L381.2,343.7 L381.7,345.8 L382.3,348.0 L381.3,349.8 L380.4,351.6 L379.4,353.3 L378.4,354.9 L378.8,357.0 L379.2,359.2 L379.5,361.3 L379.7,363.5 L378.6,365.0 L377.5,366.4 L376.4,367.8 L375.3,369.0 L375.4,371.1 L375.5,373.2 L375.5,375.2 L375.4,377.3 L374.2,378.4 L373.0,379.4 L371.8,380.3 L370.7,381.1 L370.5,383.0 L370.3,384.9 L370.0,386.7 L369.7,388.6 L368.4,389.2 L367.2,389.7 L366.0,390.1 L364.9,390.5 L364.4,392.1 L363.9,393.7 L363.4,395.2 L362.8,396.7 L361.6,396.8 L360.4,396.8 L359.3,396.7 L358.2,396.5 L357.5,397.8 L356.8,399.0 L356.0,400.1 L355.1,401.2 L354.0,400.7 L353.0,400.2 L352.0,399.6 L351.0,399.0 L350.1,399.7 L349.2,400.5 L348.2,401.1 L347.2,401.7 L346.3,400.8 L345.4,399.8 L344.6,398.7 L343.8,397.6 L342.8,397.9 L341.7,398.1 L340.6,398.3 L339.4,398.4 L338.7,397.0 L338.1,395.6 L337.5,394.1 L337.0,392.6 L335.8,392.4 L334.7,392.1 L333.4,391.7 L332.2,391.3 L331.8,389.5 L331.5,387.7 L331.1,385.9 L330.9,384.1 L329.7,383.4 L328.5,382.6 L327.3,381.8 L326.1,380.8 L326.0,378.8 L325.9,376.8 L325.9,374.8 L325.9,372.8 L324.8,371.6 L323.6,370.4 L322.5,369.1 L321.3,367.7 L321.5,365.5 L321.7,363.4 L322.0,361.3 L322.3,359.2 L321.3,357.6 L320.3,356.0 L319.3,354.3 L318.3,352.6 L318.7,350.4 L319.2,348.3 L319.8,346.2 L320.4,344.1 L319.5,342.2 L318.6,340.3 L317.8,338.4 L317.0,336.4 L317.8,334.3 L318.5,332.3 L319.3,330.3 L320.1,328.4 L319.5,326.4 L318.8,324.3 L318.3,322.2 L317.7,320.0 L318.7,318.2 L319.6,316.4 L320.6,314.7 L321.6,313.1 L321.2,311.0 L320.8,308.8 L320.5,306.7 L320.3,304.5 L321.4,303.0 L322.5,301.6 L323.6,300.2 L324.7,299.0 L324.6,296.9 L324.5,294.8 L324.5,292.8 L324.6,290.7 L325.8,289.6 L327.0,288.6 L328.2,287.7 L329.3,286.9 L329.5,285.0 L329.7,283.1 L330.0,281.3 L330.3,279.4 L331.6,278.8 L332.8,278.3 L334.0,277.9 L335.1,277.5 L335.6,275.9 L336.1,274.3 L336.6,272.8 L337.2,271.3 L338.4,271.2 L339.6,271.2 L340.7,271.3 L341.8,271.5 L342.5,270.2 L343.2,269.0 L344.0,267.9 L344.9,266.8 L346.0,267.3 L347.0,267.8 L348.0,268.4 L349.0,269.0" fill="#fff" stroke="#000" stroke-width="1.4"/>
<ellipse cx="352.0" cy="334.0" rx="25.0" ry="59.0" fill="none" stroke="#000" stroke-width="0.8" stroke-dasharray="4,3" />
<ellipse cx="355.0" cy="334.0" rx="18.0" ry="53.0" fill="none" stroke="#000" stroke-width="1" stroke-dasharray="7,2" />
<ellipse cx="380.0" cy="334.0" rx="30.0" ry="64.0" fill="#fff" stroke="#000" stroke-width="1.1" stroke-dasharray="9,1.5" />
<ellipse cx="381.5" cy="334.0" rx="28.0" ry="61.5" fill="none" stroke="#000" stroke-width="0.8" stroke-dasharray="5,2" />
<path d="M383.3,279.0 L384.0,279.7 L384.7,280.4 L385.4,281.2 L386.0,282.1 L386.7,281.6 L387.5,281.3 L388.3,281.0 L389.2,280.7 L389.7,281.9 L390.2,283.2 L390.6,284.5 L391.0,285.8 L391.9,285.9 L392.8,286.1 L393.7,286.4 L394.7,286.7 L395.0,288.3 L395.2,290.0 L395.3,291.7 L395.4,293.4 L396.4,294.0 L397.4,294.8 L398.4,295.6 L399.4,296.6 L399.4,298.5 L399.3,300.4 L399.1,302.3 L399.0,304.3 L399.9,305.4 L400.9,306.7 L401.8,308.0 L402.8,309.4 L402.5,311.5 L402.1,313.5 L401.7,315.6 L401.3,317.6 L402.1,319.1 L403.0,320.8 L403.8,322.5 L404.7,324.3 L404.1,326.3 L403.5,328.3 L402.9,330.3 L402.2,332.2 L402.9,334.0 L403.6,336.0 L404.2,337.9 L404.9,339.9 L404.1,341.8 L403.3,343.6 L402.5,345.3 L401.6,346.9 L402.1,348.9 L402.6,351.0 L403.0,353.0 L403.4,355.1 L402.5,356.6 L401.5,358.0 L400.6,359.4 L399.6,360.7 L399.9,362.6 L400.1,364.6 L400.2,366.6 L400.3,368.5 L399.3,369.6 L398.3,370.6 L397.4,371.4 L396.4,372.2 L396.4,374.0 L396.3,375.8 L396.2,377.5 L396.0,379.2 L395.0,379.7 L394.0,380.1 L393.0,380.4 L392.1,380.7 L391.8,382.1 L391.5,383.5 L391.1,384.9 L390.6,386.2 L389.7,386.1 L388.8,385.9 L388.0,385.7 L387.2,385.4 L386.7,386.4 L386.1,387.3 L385.4,388.2 L384.7,389.0 L384.0,388.3 L383.3,387.6 L382.6,386.8 L382.0,385.9 L381.3,386.4 L380.5,386.7 L379.7,387.0 L378.8,387.3 L378.3,386.1 L377.8,384.8 L377.4,383.5 L377.0,382.2 L376.1,382.1 L375.2,381.9 L374.3,381.6 L373.3,381.3 L373.0,379.7 L372.8,378.0 L372.7,376.3 L372.6,374.6 L371.6,374.0 L370.6,373.2 L369.6,372.4 L368.6,371.4 L368.6,369.5 L368.7,367.6 L368.9,365.7 L369.0,363.7 L368.1,362.6 L367.1,361.3 L366.2,360.0 L365.2,358.6 L365.5,356.5 L365.9,354.5 L366.3,352.4 L366.7,350.4 L365.9,348.9 L365.0,347.2 L364.2,345.5 L363.3,343.7 L363.9,341.7 L364.5,339.7 L365.1,337.7 L365.8,335.8 L365.1,334.0 L364.4,332.0 L363.8,330.1 L363.1,328.1 L363.9,326.2 L364.7,324.4 L365.5,322.7 L366.4,321.1 L365.9,319.1 L365.4,317.0 L365.0,315.0 L364.6,312.9 L365.5,311.4 L366.5,310.0 L367.4,308.6 L368.4,307.3 L368.1,305.4 L367.9,303.4 L367.8,301.4 L367.7,299.5 L368.7,298.4 L369.7,297.4 L370.6,296.6 L371.6,295.8 L371.6,294.0 L371.7,292.2 L371.8,290.5 L372.0,288.8 L373.0,288.3 L374.0,287.9 L375.0,287.6 L375.9,287.3 L376.2,285.9 L376.5,284.5 L376.9,283.1 L377.4,281.8 L378.3,281.9 L379.2,282.1 L380.0,282.3 L380.8,282.6 L381.3,281.6 L381.9,280.7 L382.6,279.8 L383.3,279.0" fill="none" stroke="#000" stroke-width="1.6"/>
<path d="M421.5,270.0 L422.8,269.3 L424.2,268.5 L425.6,267.9 L427.0,267.2 L428.4,268.2 L429.6,269.2 L430.9,270.3 L432.0,271.4 L433.5,271.1 L435.0,270.8 L436.6,270.7 L438.1,270.6 L439.2,271.9 L440.2,273.4 L441.2,274.8 L442.1,276.3 L443.6,276.5 L445.2,276.8 L446.7,277.1 L448.3,277.6 L449.1,279.3 L449.8,281.1 L450.4,282.8 L451.0,284.6 L452.5,285.3 L454.0,286.1 L455.5,286.9 L457.1,287.8 L457.5,289.8 L457.8,291.8 L458.1,293.8 L458.3,295.8 L459.7,297.0 L461.1,298.2 L462.5,299.5 L463.8,300.8 L463.9,302.9 L463.8,305.0 L463.7,307.1 L463.6,309.2 L464.8,310.8 L465.9,312.3 L467.1,314.0 L468.2,315.7 L467.9,317.8 L467.4,320.0 L467.0,322.0 L466.5,324.1 L467.4,325.9 L468.3,327.8 L469.2,329.7 L470.0,331.7 L469.2,333.7 L468.5,335.7 L467.7,337.6 L466.8,339.5 L467.4,341.5 L468.0,343.6 L468.5,345.6 L469.0,347.8 L468.0,349.6 L466.9,351.3 L465.8,353.0 L464.7,354.6 L464.9,356.7 L465.1,358.8 L465.3,360.9 L465.4,363.0 L464.1,364.5 L462.7,365.9 L461.4,367.2 L460.1,368.5 L459.9,370.5 L459.8,372.6 L459.5,374.6 L459.2,376.7 L457.8,377.7 L456.3,378.7 L454.8,379.6 L453.3,380.4 L452.8,382.3 L452.3,384.1 L451.7,386.0 L451.0,387.8 L449.5,388.3 L447.9,388.8 L446.3,389.3 L444.8,389.6 L444.0,391.2 L443.1,392.8 L442.2,394.3 L441.2,395.8 L439.6,395.8 L438.0,395.8 L436.5,395.7 L435.0,395.6 L433.9,396.8 L432.8,398.0 L431.6,399.1 L430.3,400.2 L428.8,399.7 L427.3,399.2 L425.9,398.6 L424.5,398.0 L423.2,398.7 L421.8,399.5 L420.4,400.1 L419.0,400.8 L417.6,399.8 L416.4,398.8 L415.1,397.7 L414.0,396.6 L412.5,396.9 L411.0,397.2 L409.4,397.3 L407.9,397.4 L406.8,396.1 L405.8,394.6 L404.8,393.2 L403.9,391.7 L402.4,391.5 L400.8,391.2 L399.3,390.9 L397.7,390.4 L396.9,388.7 L396.2,386.9 L395.6,385.2 L395.0,383.4 L393.5,382.7 L392.0,381.9 L390.5,381.1 L388.9,380.2 L388.5,378.2 L388.2,376.2 L387.9,374.2 L387.7,372.2 L386.3,371.0 L384.9,369.8 L383.5,368.5 L382.2,367.2 L382.1,365.1 L382.2,363.0 L382.3,360.9 L382.4,358.8 L381.2,357.2 L380.1,355.7 L378.9,354.0 L377.8,352.3 L378.1,350.2 L378.6,348.0 L379.0,346.0 L379.5,343.9 L378.6,342.1 L377.7,340.2 L376.8,338.3 L376.0,336.3 L376.8,334.3 L377.5,332.3 L378.3,330.4 L379.2,328.5 L378.6,326.5 L378.0,324.4 L377.5,322.4 L377.0,320.2 L378.0,318.4 L379.1,316.7 L380.2,315.0 L381.3,313.4 L381.1,311.3 L380.9,309.2 L380.7,307.1 L380.6,305.0 L381.9,303.5 L383.3,302.1 L384.6,300.8 L385.9,299.5 L386.1,297.5 L386.2,295.4 L386.5,293.4 L386.8,291.3 L388.2,290.3 L389.7,289.3 L391.2,288.4 L392.7,287.6 L393.2,285.7 L393.7,283.9 L394.3,282.0 L395.0,280.2 L396.5,279.7 L398.1,279.2 L399.7,278.7 L401.2,278.4 L402.0,276.8 L402.9,275.2 L403.8,273.7 L404.8,272.2 L406.4,272.2 L408.0,272.2 L409.5,272.3 L411.0,272.4 L412.1,271.2 L413.2,270.0 L414.4,268.9 L415.7,267.8 L417.2,268.3 L418.7,268.8 L420.1,269.4 L421.5,270.0" fill="#fff" stroke="#000" stroke-width="1.4"/>
<ellipse cx="425.0" cy="334.0" rx="39.0" ry="58.0" fill="none" stroke="#000" stroke-width="0.8" stroke-dasharray="4,3" />
<ellipse cx="428.0" cy="334.0" rx="32.0" ry="52.0" fill="none" stroke="#000" stroke-width="1" stroke-dasharray="7,2" />
<ellipse cx="436.4" cy="335.0" rx="23.6" ry="60.6" fill="none" stroke="#000" stroke-width="2.4" />
<ellipse cx="440.0" cy="335.0" rx="21.0" ry="57.0" fill="none" stroke="#000" stroke-width="1.6" />
<ellipse cx="416.0" cy="333.0" rx="15.4" ry="50.0" fill="none" stroke="#000" stroke-width="1.4" />
<path d="M441.0,287.2 L441.3,288.1 L441.5,289.0 L441.6,289.9 L441.7,290.8 L442.1,290.3 L442.6,289.9 L443.0,289.5 L443.5,289.1 L443.6,290.2 L443.6,291.4 L443.6,292.5 L443.5,293.6 L444.1,293.4 L444.6,293.3 L445.2,293.2 L445.9,293.1 L445.8,294.4 L445.6,295.7 L445.4,297.0 L445.2,298.3 L445.9,298.4 L446.5,298.6 L447.2,298.8 L447.9,299.0 L447.7,300.4 L447.4,301.8 L447.0,303.2 L446.6,304.6 L447.4,305.0 L448.1,305.4 L448.9,305.9 L449.7,306.5 L449.2,308.0 L448.8,309.4 L448.3,310.8 L447.8,312.3 L448.5,312.9 L449.3,313.7 L450.1,314.4 L450.9,315.3 L450.4,316.7 L449.8,318.1 L449.2,319.6 L448.5,320.9 L449.3,321.9 L450.1,322.8 L450.9,323.8 L451.7,324.9 L451.1,326.3 L450.4,327.6 L449.7,329.0 L448.9,330.2 L449.7,331.4 L450.5,332.5 L451.2,333.7 L452.0,335.0 L451.2,336.3 L450.5,337.5 L449.7,338.6 L448.9,339.8 L449.7,341.0 L450.4,342.4 L451.1,343.7 L451.7,345.1 L450.9,346.2 L450.1,347.2 L449.3,348.1 L448.5,349.1 L449.2,350.4 L449.8,351.9 L450.4,353.3 L450.9,354.7 L450.1,355.6 L449.3,356.3 L448.5,357.1 L447.8,357.7 L448.3,359.2 L448.8,360.6 L449.2,362.0 L449.7,363.5 L448.9,364.1 L448.1,364.6 L447.4,365.0 L446.6,365.4 L447.0,366.8 L447.4,368.2 L447.7,369.6 L447.9,371.0 L447.2,371.2 L446.5,371.4 L445.9,371.6 L445.2,371.7 L445.4,373.0 L445.6,374.3 L445.8,375.6 L445.9,376.9 L445.2,376.8 L444.6,376.7 L444.1,376.6 L443.5,376.4 L443.6,377.5 L443.6,378.6 L443.6,379.8 L443.5,380.9 L443.0,380.5 L442.6,380.1 L442.1,379.7 L441.7,379.2 L441.6,380.1 L441.5,381.0 L441.3,381.9 L441.0,382.8" fill="none" stroke="#000" stroke-width="1.5"/>
<ellipse cx="502.6" cy="332.8" rx="19.6" ry="31.6" fill="none" stroke="#000" stroke-width="1.3" />
<ellipse cx="503.5" cy="332.8" rx="17.0" ry="29.0" fill="none" stroke="#000" stroke-width="0.7" stroke-dasharray="4,2" />
<ellipse cx="504.5" cy="332.0" rx="10.0" ry="21.5" fill="none" stroke="#000" stroke-width="1.1" />
<path d="M497,350 l-3,-3 l2,-3 z" fill="#000" stroke="#000" stroke-width="1.5" />
<path d="M551,281 C560,278 575,277 585,277 M558,385 C568,387 578,387 585,387" fill="none" stroke="#000" stroke-width="1.4" />
<path d="M570.1,385.8 L567.7,385.3 L565.3,384.5 L562.9,383.4 L560.6,382.1 L558.4,380.4 L556.3,378.5 L554.2,376.4 L552.2,374.0 L550.4,371.3 L548.7,368.5 L547.1,365.4 L545.6,362.2 L544.3,358.8 L543.2,355.2 L542.2,351.6 L541.4,347.8 L540.8,343.9 L540.4,340.0 L540.1,336.0 L540.0,332.0 L540.1,328.0 L540.4,324.0 L540.8,320.1 L541.4,316.2 L542.2,312.4 L543.2,308.8 L544.3,305.2 L545.6,301.8 L547.1,298.6 L548.7,295.5 L550.4,292.7 L552.2,290.0 L554.2,287.6 L556.3,285.5 L558.4,283.6 L560.6,281.9 L562.9,280.6 L565.3,279.5 L567.7,278.7 L570.1,278.2" fill="none" stroke="#000" stroke-width="1.3"/>
<rect x="552.8" y="378.6" width="12.0" height="6.2" fill="#fff" stroke="#000" stroke-width="1.1"/>
<line x1="554.3" y1="380.4" x2="562.8" y2="380.4" stroke="#000" stroke-width="0.8"/>
<rect x="545.7" y="373.1" width="12.0" height="6.2" fill="#fff" stroke="#000" stroke-width="1.1"/>
<line x1="547.2" y1="374.9" x2="555.7" y2="374.9" stroke="#000" stroke-width="0.8"/>
<rect x="539.6" y="364.8" width="12.0" height="6.2" fill="#fff" stroke="#000" stroke-width="1.1"/>
<line x1="541.1" y1="366.6" x2="549.6" y2="366.6" stroke="#000" stroke-width="0.8"/>
<rect x="534.9" y="354.2" width="12.0" height="6.2" fill="#fff" stroke="#000" stroke-width="1.1"/>
<line x1="536.4" y1="356.0" x2="544.9" y2="356.0" stroke="#000" stroke-width="0.8"/>
<rect x="532.0" y="342.0" width="12.0" height="6.2" fill="#fff" stroke="#000" stroke-width="1.1"/>
<line x1="533.5" y1="343.8" x2="542.0" y2="343.8" stroke="#000" stroke-width="0.8"/>
<rect x="531.0" y="328.9" width="12.0" height="6.2" fill="#fff" stroke="#000" stroke-width="1.1"/>
<line x1="532.5" y1="330.7" x2="541.0" y2="330.7" stroke="#000" stroke-width="0.8"/>
<rect x="532.0" y="315.8" width="12.0" height="6.2" fill="#fff" stroke="#000" stroke-width="1.1"/>
<line x1="533.5" y1="317.6" x2="542.0" y2="317.6" stroke="#000" stroke-width="0.8"/>
<rect x="534.9" y="303.6" width="12.0" height="6.2" fill="#fff" stroke="#000" stroke-width="1.1"/>
<line x1="536.4" y1="305.4" x2="544.9" y2="305.4" stroke="#000" stroke-width="0.8"/>
<rect x="539.6" y="293.0" width="12.0" height="6.2" fill="#fff" stroke="#000" stroke-width="1.1"/>
<line x1="541.1" y1="294.8" x2="549.6" y2="294.8" stroke="#000" stroke-width="0.8"/>
<rect x="545.7" y="284.7" width="12.0" height="6.2" fill="#fff" stroke="#000" stroke-width="1.1"/>
<line x1="547.2" y1="286.5" x2="555.7" y2="286.5" stroke="#000" stroke-width="0.8"/>
<rect x="552.8" y="279.2" width="12.0" height="6.2" fill="#fff" stroke="#000" stroke-width="1.1"/>
<line x1="554.3" y1="281.0" x2="562.8" y2="281.0" stroke="#000" stroke-width="0.8"/>
<ellipse cx="584.0" cy="332.0" rx="28.5" ry="55.0" fill="#fff" stroke="#000" stroke-width="1.3" />
<ellipse cx="586.0" cy="332.0" rx="25.0" ry="51.0" fill="none" stroke="#000" stroke-width="1" stroke-dasharray="6,1.5" />
<ellipse cx="588.0" cy="332.0" rx="21.5" ry="46.0" fill="none" stroke="#000" stroke-width="1" stroke-dasharray="5,2" />
<path d="M592.6,289.2 L593.1,289.3 L593.6,289.4 L594.0,289.6 L594.5,289.8 L595.0,290.1 L595.5,290.4 L596.0,290.7 L596.4,291.0 L596.9,291.4 L597.4,291.8 L597.8,292.2 L598.3,292.7 L598.7,293.2 L599.2,293.7 L599.6,294.3 L600.1,294.8 L600.5,295.4 L600.9,296.1 L601.3,296.7 L601.7,297.4 L602.1,298.2 L602.5,298.9 L602.9,299.7 L603.2,300.4 L603.6,301.3 L603.9,302.1 L604.3,303.0 L604.6,303.8 L604.9,304.8 L605.2,305.7 L605.5,306.6 L605.8,307.6 L606.1,308.6 L606.4,309.6 L606.6,310.6 L606.8,311.6 L607.1,312.7 L607.3,313.7 L607.5,314.8 L607.7,315.9" fill="none" stroke="#000" stroke-width="4.5"/>
<path d="M607.7,348.1 L607.5,349.2 L607.3,350.3 L607.1,351.3 L606.8,352.4 L606.6,353.4 L606.4,354.4 L606.1,355.4 L605.8,356.4 L605.5,357.4 L605.2,358.3 L604.9,359.2 L604.6,360.2 L604.3,361.0 L603.9,361.9 L603.6,362.7 L603.2,363.6 L602.9,364.3 L602.5,365.1 L602.1,365.8 L601.7,366.6 L601.3,367.3 L600.9,367.9 L600.5,368.6 L600.1,369.2 L599.6,369.7 L599.2,370.3 L598.7,370.8 L598.3,371.3 L597.8,371.8 L597.4,372.2 L596.9,372.6 L596.4,373.0 L596.0,373.3 L595.5,373.6 L595.0,373.9 L594.5,374.2 L594.0,374.4 L593.6,374.6 L593.1,374.7 L592.6,374.8" fill="none" stroke="#000" stroke-width="4.5"/>
<ellipse cx="591.0" cy="332.0" rx="15.0" ry="36.0" fill="none" stroke="#000" stroke-width="1" stroke-dasharray="5,2" />
<ellipse cx="594.0" cy="332.0" rx="11.0" ry="27.0" fill="none" stroke="#000" stroke-width="0.9" stroke-dasharray="3,2" />
<path d="M590,313 C597,312 603,313 608.5,316.4 M590,347 C597,347.5 603,346.5 608.5,344.3" fill="none" stroke="#000" stroke-width="1.2" />
<path d="M589.3,345.8 L589.0,345.5 L588.8,345.2 L588.5,344.8 L588.2,344.4 L588.0,343.9 L587.8,343.3 L587.5,342.6 L587.3,341.9 L587.1,341.1 L586.9,340.3 L586.8,339.4 L586.6,338.5 L586.5,337.5 L586.3,336.5 L586.2,335.5 L586.2,334.4 L586.1,333.3 L586.0,332.2 L586.0,331.1 L586.0,330.0 L586.0,328.9 L586.0,327.8 L586.1,326.7 L586.2,325.6 L586.2,324.5 L586.3,323.5 L586.5,322.5 L586.6,321.5 L586.8,320.6 L586.9,319.7 L587.1,318.9 L587.3,318.1 L587.5,317.4 L587.8,316.7 L588.0,316.1 L588.2,315.6 L588.5,315.2 L588.8,314.8 L589.0,314.5 L589.3,314.2" fill="none" stroke="#000" stroke-width="1" stroke-dasharray="3,2"/>
<ellipse cx="608.5" cy="330.4" rx="7.8" ry="14.0" fill="#fff" stroke="#000" stroke-width="1.3" />
<ellipse cx="607.8" cy="330.4" rx="5.4" ry="10.8" fill="#000" stroke="#000" stroke-width="1" />
<line x1="604.0" y1="326.0" x2="612.0" y2="326.0" stroke="#fff" stroke-width="1"/>
<line x1="604.0" y1="333.0" x2="612.0" y2="333.0" stroke="#fff" stroke-width="1"/>
<path d="M640.1,338.9 L639.8,338.8 L639.5,338.6 L639.1,338.5 L638.8,338.2 L638.5,338.0 L638.2,337.7 L637.9,337.4 L637.7,337.1 L637.4,336.7 L637.2,336.3 L637.0,335.9 L636.8,335.5 L636.6,335.0 L636.4,334.6 L636.3,334.1 L636.2,333.6 L636.1,333.1 L636.0,332.5 L636.0,332.0 L636.0,331.5 L636.0,331.0 L636.0,330.5 L636.1,329.9 L636.2,329.4 L636.3,328.9 L636.4,328.4 L636.6,328.0 L636.8,327.5 L637.0,327.1 L637.2,326.7 L637.4,326.3 L637.7,325.9 L637.9,325.6 L638.2,325.3 L638.5,325.0 L638.8,324.8 L639.1,324.5 L639.5,324.4 L639.8,324.2 L640.1,324.1" fill="none" stroke="#000" stroke-width="1.4"/>
<path d="M660,318.5 H692 V341.5 H660 C656,339 656,321 660,318.5 Z" fill="#000" stroke="#000" stroke-width="0.5" />
<line x1="662.0" y1="323.0" x2="689.0" y2="323.0" stroke="#fff" stroke-width="1"/>
<line x1="662.0" y1="327.0" x2="689.0" y2="327.0" stroke="#fff" stroke-width="1"/>
<line x1="662.0" y1="331.0" x2="689.0" y2="331.0" stroke="#fff" stroke-width="1"/>
<line x1="662.0" y1="335.0" x2="689.0" y2="335.0" stroke="#fff" stroke-width="1"/>
<line x1="662.0" y1="338.5" x2="689.0" y2="338.5" stroke="#fff" stroke-width="1"/>
<path d="M712,316.5 H789 V341.5 H712" fill="#fff" stroke="#000" stroke-width="1.2" />
<ellipse cx="711.0" cy="329.0" rx="4.0" ry="12.5" fill="#fff" stroke="#000" stroke-width="2" />
<path d="M716,318 H743 V340 H716 Z" fill="none" stroke="#000" stroke-width="2" />
<line x1="718.0" y1="323.0" x2="741.0" y2="323.0" stroke="#000" stroke-width="1"/>
<line x1="718.0" y1="327.5" x2="741.0" y2="327.5" stroke="#000" stroke-width="1"/>
<line x1="718.0" y1="332.0" x2="741.0" y2="332.0" stroke="#000" stroke-width="1"/>
<line x1="718.0" y1="336.5" x2="741.0" y2="336.5" stroke="#000" stroke-width="1"/>
<line x1="744.0" y1="340.0" x2="748.5" y2="318.0" stroke="#000" stroke-width="1.3"/>
<line x1="747.0" y1="340.0" x2="751.5" y2="318.0" stroke="#000" stroke-width="1.3"/>
<line x1="750.0" y1="340.0" x2="754.5" y2="318.0" stroke="#000" stroke-width="1.3"/>
<line x1="753.0" y1="340.0" x2="757.5" y2="318.0" stroke="#000" stroke-width="1.3"/>
<line x1="756.0" y1="340.0" x2="760.5" y2="318.0" stroke="#000" stroke-width="1.3"/>
<line x1="759.0" y1="340.0" x2="763.5" y2="318.0" stroke="#000" stroke-width="1.3"/>
<line x1="762.0" y1="340.0" x2="766.5" y2="318.0" stroke="#000" stroke-width="1.3"/>
<line x1="765.0" y1="340.0" x2="769.5" y2="318.0" stroke="#000" stroke-width="1.3"/>
<line x1="768.0" y1="340.0" x2="772.5" y2="318.0" stroke="#000" stroke-width="1.3"/>
<line x1="771.0" y1="340.0" x2="775.5" y2="318.0" stroke="#000" stroke-width="1.3"/>
<line x1="774.0" y1="340.0" x2="778.5" y2="318.0" stroke="#000" stroke-width="1.3"/>
<line x1="777.0" y1="340.0" x2="781.5" y2="318.0" stroke="#000" stroke-width="1.3"/>
<line x1="780.0" y1="340.0" x2="784.5" y2="318.0" stroke="#000" stroke-width="1.3"/>
<line x1="743.0" y1="316.5" x2="782.0" y2="316.5" stroke="#000" stroke-width="2"/>
<line x1="743.0" y1="341.5" x2="782.0" y2="341.5" stroke="#000" stroke-width="2"/>
<path d="M782,316 L789,316 L786,320 M782,342 L789,342" fill="none" stroke="#000" stroke-width="1.5" />
<ellipse cx="811.0" cy="322.0" rx="0.8" ry="0.8" fill="#000" stroke="#000" stroke-width="1" />
<ellipse cx="813.0" cy="330.0" rx="0.8" ry="0.8" fill="#000" stroke="#000" stroke-width="1" />
<ellipse cx="810.0" cy="336.0" rx="0.8" ry="0.8" fill="#000" stroke="#000" stroke-width="1" />
<rect x="827" y="315.8" width="78" height="4.4" fill="#000"/>
<rect x="828" y="333.6" width="76" height="4" fill="#000"/>
<path d="M830,323 H900 M832,330.5 H899" fill="none" stroke="#000" stroke-width="0.8" stroke-dasharray="9,3" />
<path d="M828.0,337.5 L827.8,337.5 L827.6,337.4 L827.4,337.2 L827.2,337.0 L827.0,336.7 L826.9,336.4 L826.7,336.0 L826.5,335.5 L826.4,335.0 L826.2,334.4 L826.1,333.8 L826.0,333.2 L825.9,332.5 L825.8,331.8 L825.7,331.0 L825.6,330.2 L825.6,329.5 L825.5,328.6 L825.5,327.8 L825.5,327.0 L825.5,326.2 L825.5,325.4 L825.6,324.5 L825.6,323.8 L825.7,323.0 L825.8,322.2 L825.9,321.5 L826.0,320.8 L826.1,320.2 L826.2,319.6 L826.4,319.0 L826.5,318.5 L826.7,318.0 L826.9,317.6 L827.0,317.3 L827.2,317.0 L827.4,316.8 L827.6,316.6 L827.8,316.5 L828.0,316.5" fill="none" stroke="#000" stroke-width="1.2"/>
<path d="M904.0,316.5 L904.2,316.5 L904.4,316.6 L904.6,316.8 L904.8,317.0 L905.0,317.3 L905.1,317.6 L905.3,318.0 L905.5,318.5 L905.6,319.0 L905.8,319.6 L905.9,320.2 L906.0,320.8 L906.1,321.5 L906.2,322.2 L906.3,323.0 L906.4,323.8 L906.4,324.5 L906.5,325.4 L906.5,326.2 L906.5,327.0 L906.5,327.8 L906.5,328.6 L906.4,329.5 L906.4,330.2 L906.3,331.0 L906.2,331.8 L906.1,332.5 L906.0,333.2 L905.9,333.8 L905.8,334.4 L905.6,335.0 L905.5,335.5 L905.3,336.0 L905.1,336.4 L905.0,336.7 L904.8,337.0 L904.6,337.2 L904.4,337.4 L904.2,337.5 L904.0,337.5" fill="none" stroke="#000" stroke-width="1.2"/>
<line x1="860.0" y1="326.0" x2="898.0" y2="329.0" stroke="#000" stroke-width="0.8" stroke-dasharray="6,3"/>
<path d="M760,383 C763,380 768,385 772,391 C775,396 780,398 783,397 M762,389 C765,393 770,398 775,401" fill="none" stroke="#000" stroke-width="1.6" />
<path d="M772,386 L784,388 L783,390 Z" fill="#000" stroke="#000" stroke-width="1.5" />
<path d="M825,371 H812 C806,372 804,380 804,387 C804,395 806,402 812,403 H825 Z" fill="#000" stroke="#000" stroke-width="0.5" />
<ellipse cx="824.0" cy="387.0" rx="8.5" ry="15.0" fill="#fff" stroke="#000" stroke-width="1.2" stroke-dasharray="3,1" />
<ellipse cx="823.0" cy="387.0" rx="5.0" ry="11.5" fill="none" stroke="#000" stroke-width="1" />
<path d="M845,381 C849,386 850,392 851,400" fill="none" stroke="#000" stroke-width="1.3" />
<path d="M848,382 L852,378" fill="none" stroke="#000" stroke-width="1" />
<ellipse cx="875.2" cy="386.3" rx="7.4" ry="14.2" fill="none" stroke="#000" stroke-width="1.1" />
<path d="M869,372 H880 M868,400.5 H879" fill="none" stroke="#000" stroke-width="2" />
<path d="M902.0,396.8 L901.7,396.7 L901.3,396.4 L900.9,396.2 L900.6,395.8 L900.2,395.5 L899.9,395.0 L899.6,394.6 L899.3,394.0 L899.0,393.5 L898.8,392.9 L898.6,392.3 L898.3,391.6 L898.1,390.9 L898.0,390.2 L897.8,389.4 L897.7,388.7 L897.6,387.9 L897.6,387.1 L897.5,386.3 L897.5,385.5 L897.5,384.7 L897.6,383.9 L897.6,383.1 L897.7,382.3 L897.8,381.6 L898.0,380.8 L898.1,380.1 L898.3,379.4 L898.6,378.7 L898.8,378.1 L899.0,377.5 L899.3,377.0 L899.6,376.4 L899.9,376.0 L900.2,375.5 L900.6,375.2 L900.9,374.8 L901.3,374.6 L901.7,374.3 L902.0,374.2" fill="none" stroke="#000" stroke-width="1.3"/>
<path d="M903.0,394.9 L902.7,394.7 L902.5,394.4 L902.2,394.1 L902.0,393.8 L901.8,393.4 L901.5,393.0 L901.3,392.6 L901.2,392.2 L901.0,391.7 L900.8,391.2 L900.7,390.7 L900.5,390.2 L900.4,389.6 L900.3,389.1 L900.2,388.5 L900.1,387.9 L900.1,387.3 L900.0,386.7 L900.0,386.1 L900.0,385.5 L900.0,384.9 L900.0,384.3 L900.1,383.7 L900.1,383.1 L900.2,382.5 L900.3,381.9 L900.4,381.4 L900.5,380.8 L900.7,380.3 L900.8,379.8 L901.0,379.3 L901.2,378.8 L901.3,378.4 L901.5,378.0 L901.8,377.6 L902.0,377.2 L902.2,376.9 L902.5,376.6 L902.7,376.3 L903.0,376.1" fill="none" stroke="#000" stroke-width="0.8"/>
<line x1="901.0" y1="374.0" x2="906.0" y2="372.0" stroke="#000" stroke-width="1"/>
<ellipse cx="183.9" cy="565.0" rx="19.6" ry="32.0" fill="none" stroke="#000" stroke-width="1.3" />
<ellipse cx="184.5" cy="564.5" rx="17.5" ry="30.0" fill="none" stroke="#000" stroke-width="0.7" stroke-dasharray="4,2" />
<path d="M185.4,542 C190,545 194,549 195,555 L195.5,575 C194,581 190,584 185.4,586.4 C180,584 176,580 175,575 L175,555 C176,549 180,545 185.4,542 Z" fill="none" stroke="#000" stroke-width="1.1" stroke-dasharray="7,2" />
<ellipse cx="169.0" cy="572.0" rx="1.5" ry="2.5" fill="#000" stroke="#000" stroke-width="0.5" />
<path d="M247.0,565.4 L246.8,569.1 L246.2,572.7 L245.4,576.1 L244.3,579.3 L243.0,582.1 L241.5,584.7 L239.7,586.8 L237.8,588.5 L235.8,589.7 L233.7,590.3 L231.6,590.5 L229.4,590.1 L227.4,589.2 L225.4,587.8 L223.6,586.0 L221.9,583.7 L220.4,581.0 L219.2,578.0 L218.2,574.7 L217.5,571.2 L217.1,567.6 L217.0,563.9 L217.2,560.2 L217.7,556.6 L218.5,553.2 L219.5,550.0 L220.9,547.1 L222.4,544.5 L224.1,542.4 L226.0,540.7 L228.0,539.4 L230.1,538.7 L232.2,538.5 L234.4,538.8 L236.4,539.7 L238.4,541.0 L240.3,542.8 L242.0,545.1 L243.5,547.7 L244.7,550.7" fill="none" stroke="#000" stroke-width="1.5"/>
<path d="M244.5,566.5 L244.2,569.8 L243.7,572.9 L242.9,575.9 L242.0,578.6 L240.8,581.1 L239.5,583.3 L238.1,585.1 L236.5,586.4 L234.8,587.4 L233.1,587.9 L231.3,588.0 L229.6,587.6 L227.9,586.7 L226.3,585.4 L224.8,583.8 L223.5,581.7 L222.3,579.3 L221.3,576.6 L220.5,573.7 L219.9,570.6 L219.6,567.4 L219.5,564.1 L219.7,560.8 L220.0,557.6 L220.7,554.6 L221.5,551.7 L222.6,549.1 L223.8,546.8 L225.2,544.8 L226.7,543.2 L228.3,542.0 L230.0,541.3 L231.8,541.0 L233.5,541.2 L235.2,541.8 L236.9,542.9 L238.4,544.4 L239.9,546.2 L241.1,548.5 L242.2,551.0" fill="none" stroke="#000" stroke-width="1"/>
<path d="M243,546 L245,549 L241,550" fill="none" stroke="#000" stroke-width="1.4" />
<ellipse cx="281.0" cy="563.7" rx="19.6" ry="38.5" fill="none" stroke="#000" stroke-width="1.2" stroke-dasharray="8,2" />
<ellipse cx="283.0" cy="563.7" rx="16.5" ry="35.0" fill="none" stroke="#000" stroke-width="0.8" stroke-dasharray="4,3" />
<rect x="276.6" y="529.0" width="42.9" height="7.6" rx="3.8" fill="#000"/>
<ellipse cx="315.7" cy="532.8" rx="2.3" ry="2.3" fill="none" stroke="#fff" stroke-width="0.8" />
<rect x="269.0" y="539.5" width="61.0" height="9.0" rx="4.5" fill="#000"/>
<ellipse cx="325.5" cy="544.0" rx="3.0" ry="3.0" fill="none" stroke="#fff" stroke-width="0.8" />
<rect x="294.6" y="553.2" width="38.4" height="9.1" rx="4.5" fill="#000"/>
<ellipse cx="328.5" cy="557.8" rx="3.0" ry="3.0" fill="none" stroke="#fff" stroke-width="0.8" />
<rect x="266.0" y="560.0" width="33.0" height="10.0" rx="5.0" fill="#000"/>
<ellipse cx="294.0" cy="565.0" rx="3.5" ry="3.5" fill="none" stroke="#fff" stroke-width="0.8" />
<rect x="294.6" y="570.5" width="36.2" height="9.1" rx="4.6" fill="#000"/>
<ellipse cx="326.2" cy="575.0" rx="3.1" ry="3.1" fill="none" stroke="#fff" stroke-width="0.8" />
<rect x="267.5" y="574.3" width="33.2" height="9.0" rx="4.5" fill="#000"/>
<ellipse cx="296.2" cy="578.8" rx="3.0" ry="3.0" fill="none" stroke="#fff" stroke-width="0.8" />
<rect x="275.0" y="582.6" width="49.8" height="9.8" rx="4.9" fill="#000"/>
<ellipse cx="319.9" cy="587.5" rx="3.4" ry="3.4" fill="none" stroke="#fff" stroke-width="0.8" />
<line x1="291.0" y1="549.0" x2="291.0" y2="553.0" stroke="#fff" stroke-width="1.5"/>
<line x1="293.0" y1="566.0" x2="293.0" y2="570.0" stroke="#fff" stroke-width="1.5"/>
<path d="M371,503 L357,509 C351,516 347,524 346,532 L344,546 L344,575 L346,588 C349,598 352,606 356,611 L366,618 L375,622" fill="none" stroke="#000" stroke-width="1.3" />
<path d="M366,507 C364,520 362,540 362,560 C362,585 365,605 370,617" fill="none" stroke="#000" stroke-width="1.1" />
<line x1="357.5" y1="509.5" x2="366.0" y2="510.3" stroke="#000" stroke-width="1.2"/>
<line x1="346.0" y1="532.0" x2="363.0" y2="532.8" stroke="#000" stroke-width="1.2"/>
<line x1="344.0" y1="560.5" x2="362.0" y2="561.3" stroke="#000" stroke-width="1.2"/>
<line x1="346.0" y1="588.3" x2="363.5" y2="589.1" stroke="#000" stroke-width="1.2"/>
<line x1="356.0" y1="611.0" x2="368.0" y2="611.8" stroke="#000" stroke-width="1.2"/>
<line x1="351.0" y1="520.0" x2="364.0" y2="520.0" stroke="#000" stroke-width="0.8"/>
<line x1="345.0" y1="546.0" x2="362.5" y2="546.0" stroke="#000" stroke-width="0.8"/>
<line x1="345.0" y1="575.0" x2="362.5" y2="575.0" stroke="#000" stroke-width="0.8"/>
<line x1="349.5" y1="600.0" x2="365.0" y2="600.0" stroke="#000" stroke-width="0.8"/>
<path d="M355,611 L366,618 L375,622 L372,615 Z" fill="#000" stroke="#000" stroke-width="1" />
<path d="M375,505 C395,498 415,500 425,520 M375,622 C400,628 418,618 425,602" fill="none" stroke="#000" stroke-width="1.3" />
<path d="M392.8,621.8 L391.0,621.2 L389.2,620.3 L387.4,619.1 L385.6,617.6 L383.9,615.8 L382.3,613.7 L380.8,611.3 L379.3,608.6 L377.9,605.7 L376.6,602.5 L375.4,599.1 L374.3,595.6 L373.3,591.8 L372.4,587.8 L371.7,583.7 L371.1,579.5 L370.6,575.2 L370.3,570.9 L370.1,566.4 L370.0,562.0 L370.1,557.6 L370.3,553.1 L370.6,548.8 L371.1,544.5 L371.7,540.3 L372.4,536.2 L373.3,532.2 L374.3,528.4 L375.4,524.9 L376.6,521.5 L377.9,518.3 L379.3,515.4 L380.8,512.7 L382.3,510.3 L383.9,508.2 L385.6,506.4 L387.4,504.9 L389.2,503.7 L391.0,502.8 L392.8,502.2" fill="none" stroke="#000" stroke-width="3"/>
<path d="M389.9,621.8 L388.1,621.2 L386.4,620.3 L384.7,619.1 L383.0,617.6 L381.4,615.8 L379.8,613.7 L378.3,611.3 L376.9,608.6 L375.6,605.7 L374.3,602.5 L373.2,599.1 L372.1,595.6 L371.2,591.8 L370.3,587.8 L369.6,583.7 L369.0,579.5 L368.6,575.2 L368.3,570.9 L368.1,566.4 L368.0,562.0 L368.1,557.6 L368.3,553.1 L368.6,548.8 L369.0,544.5 L369.6,540.3 L370.3,536.2 L371.2,532.2 L372.1,528.4 L373.2,524.9 L374.3,521.5 L375.6,518.3 L376.9,515.4 L378.3,512.7 L379.8,510.3 L381.4,508.2 L383.0,506.4 L384.7,504.9 L386.4,503.7 L388.1,502.8 L389.9,502.2" fill="none" stroke="#000" stroke-width="1.2"/>
<line x1="371.0" y1="502.0" x2="395.0" y2="500.0" stroke="#000" stroke-width="1.5"/>
<ellipse cx="418.4" cy="562.0" rx="25.8" ry="39.0" fill="#fff" stroke="#000" stroke-width="1.3" />
<path d="M413.9,600.4 L412.2,599.8 L410.4,599.1 L408.7,598.2 L407.1,597.1 L405.5,595.8 L404.0,594.3 L402.5,592.7 L401.1,591.0 L399.8,589.1 L398.6,587.1 L397.5,584.9 L396.5,582.7 L395.6,580.3 L394.8,577.9 L394.2,575.3 L393.6,572.7 L393.2,570.1 L392.9,567.4 L392.7,564.7 L392.6,562.0 L392.7,559.3 L392.9,556.6 L393.2,553.9 L393.6,551.3 L394.2,548.7 L394.8,546.1 L395.6,543.7 L396.5,541.3 L397.5,539.1 L398.6,536.9 L399.8,534.9 L401.1,533.0 L402.5,531.3 L404.0,529.7 L405.5,528.2 L407.1,526.9 L408.7,525.8 L410.4,524.9 L412.2,524.2 L413.9,523.6" fill="none" stroke="#000" stroke-width="2.5"/>
<path d="M413.4,595.8 L412.1,595.1 L410.8,594.3 L409.5,593.4 L408.2,592.3 L407.1,591.1 L405.9,589.8 L404.8,588.3 L403.8,586.7 L402.8,585.1 L401.9,583.3 L401.1,581.4 L400.4,579.5 L399.7,577.5 L399.1,575.4 L398.6,573.3 L398.2,571.1 L397.9,568.8 L397.7,566.6 L397.5,564.3 L397.5,562.0 L397.5,559.7 L397.7,557.4 L397.9,555.2 L398.2,552.9 L398.6,550.7 L399.1,548.6 L399.7,546.5 L400.4,544.5 L401.1,542.6 L401.9,540.7 L402.8,538.9 L403.8,537.3 L404.8,535.7 L405.9,534.2 L407.1,532.9 L408.2,531.7 L409.5,530.6 L410.8,529.7 L412.1,528.9 L413.4,528.2" fill="none" stroke="#000" stroke-width="3"/>
<path d="M414.6,593.9 L413.4,593.2 L412.2,592.5 L411.1,591.6 L410.0,590.6 L408.9,589.4 L407.9,588.2 L407.0,586.8 L406.1,585.3 L405.2,583.8 L404.4,582.1 L403.7,580.3 L403.0,578.5 L402.5,576.6 L401.9,574.6 L401.5,572.6 L401.1,570.5 L400.9,568.4 L400.7,566.3 L400.5,564.2 L400.5,562.0 L400.5,559.8 L400.7,557.7 L400.9,555.6 L401.1,553.5 L401.5,551.4 L401.9,549.4 L402.5,547.4 L403.0,545.5 L403.7,543.7 L404.4,541.9 L405.2,540.2 L406.1,538.7 L407.0,537.2 L407.9,535.8 L408.9,534.6 L410.0,533.4 L411.1,532.4 L412.2,531.5 L413.4,530.8 L414.6,530.1" fill="none" stroke="#000" stroke-width="1"/>
<ellipse cx="423.4" cy="561.5" rx="11.0" ry="21.0" fill="none" stroke="#000" stroke-width="1.3" />
<path d="M426.5,543.8 L427.1,544.0 L427.6,544.4 L428.2,544.8 L428.7,545.3 L429.2,545.9 L429.8,546.6 L430.2,547.3 L430.7,548.1 L431.1,549.0 L431.5,549.9 L431.9,550.9 L432.2,552.0 L432.5,553.0 L432.8,554.2 L433.0,555.3 L433.2,556.5 L433.3,557.8 L433.4,559.0 L433.5,560.2 L433.5,561.5 L433.5,562.8 L433.4,564.0 L433.3,565.2 L433.2,566.5 L433.0,567.7 L432.8,568.8 L432.5,570.0 L432.2,571.0 L431.9,572.1 L431.5,573.1 L431.1,574.0 L430.7,574.9 L430.2,575.7 L429.8,576.4 L429.2,577.1 L428.7,577.7 L428.2,578.2 L427.6,578.6 L427.1,579.0 L426.5,579.2" fill="none" stroke="#000" stroke-width="3.5"/>
<ellipse cx="421.0" cy="561.5" rx="6.0" ry="15.0" fill="none" stroke="#000" stroke-width="1" />
<path d="M529.5,462.1 L524.1,462.6 L518.8,463.7 L513.5,465.3 L508.3,467.5 L503.3,470.2 L498.4,473.4 L493.7,477.1 L489.3,481.3 L485.0,485.9 L481.1,491.0 L477.4,496.4 L474.0,502.3 L471.0,508.4 L468.3,514.8 L466.0,521.5 L464.0,528.4 L462.4,535.5 L461.2,542.8 L460.4,550.1 L460.0,557.5 L460.1,565.0 L460.5,572.4 L461.3,579.7 L462.5,587.0 L464.1,594.0 L466.1,601.0 L468.5,607.6 L471.2,614.0 L474.3,620.2 L477.7,625.9 L481.4,631.4 L485.3,636.4 L489.6,641.0 L494.1,645.1 L498.8,648.8 L503.6,652.0 L508.7,654.7 L513.9,656.8 L519.1,658.4 L524.5,659.5" fill="none" stroke="#000" stroke-width="3.2"/>
<path d="M524,467 C521,520 521,612 526,664 L534,667 L590,671.7 L606.4,660" fill="none" stroke="#000" stroke-width="1.3" />
<path d="M527,463 L590,455.5 L631,461 C637,462 641,467 640,472 L643,477 C660,486 672,494 682,498" fill="none" stroke="#000" stroke-width="1.2" />
<path d="M682,498.5 H734" fill="none" stroke="#000" stroke-width="1" stroke-dasharray="4,3" />
<path d="M535,469 C533,520 533,600 543,654 L548,660" fill="none" stroke="#000" stroke-width="1" stroke-dasharray="7,2" />
<path d="M530,465 L588,459" fill="none" stroke="#000" stroke-width="0.8" />
<path d="M552,473 C543,500 538,530 537,561" fill="none" stroke="#000" stroke-width="1" stroke-dasharray="6,2" />
<path d="M677,499.5 C666,508 656,525 651,547" fill="none" stroke="#000" stroke-width="1" stroke-dasharray="5,3" />
<path d="M543,578.5 L590,574 L718.2,567.4" fill="none" stroke="#000" stroke-width="2.4" />
<path d="M543,586.6 L655.7,575.6 L697,574.8" fill="none" stroke="#000" stroke-width="1" />
<path d="M604,583 V657" fill="none" stroke="#000" stroke-width="1" />
<path d="M546.5,659 L590,666" fill="none" stroke="#000" stroke-width="1" />
<ellipse cx="537.0" cy="477.0" rx="1.5" ry="2.2" fill="none" stroke="#000" stroke-width="1" />
<ellipse cx="543.5" cy="652.5" rx="1.5" ry="2.2" fill="none" stroke="#000" stroke-width="1" />
<ellipse cx="634.5" cy="469.5" rx="1.8" ry="2.2" fill="none" stroke="#000" stroke-width="1" />
<path d="M655.7,576.4 C656,583 658,588 662,590 C668,592 676,593 682,597 C690,603 690,610 682,614.2 L682,639 C676,655 668,664 655,668 C645,673 632,674 620,670 C610,665 604,650 606,630 C608,605 620,588 642,588 C650,588 656,590 660,590" fill="#fff" stroke="#000" stroke-width="1.3" />
<ellipse cx="643.0" cy="626.0" rx="26.0" ry="37.0" fill="none" stroke="#000" stroke-width="1" stroke-dasharray="6,2" />
<ellipse cx="642.0" cy="624.5" rx="21.8" ry="35.7" fill="none" stroke="#000" stroke-width="1.2" stroke-dasharray="8,2" />
<path d="M638.2,659.7 L637.7,659.5 L637.3,659.4 L636.8,659.2 L636.4,659.0 L635.9,658.8 L635.4,658.5 L635.0,658.3 L634.5,658.0 L634.1,657.8 L633.7,657.5 L633.2,657.2 L632.8,656.9 L632.4,656.5 L631.9,656.2 L631.5,655.8 L631.1,655.4 L630.7,655.0 L630.3,654.6 L629.9,654.2 L629.5,653.7 L629.1,653.3 L628.7,652.8 L628.4,652.3 L628.0,651.8 L627.6,651.3 L627.3,650.8 L626.9,650.3 L626.6,649.7 L626.3,649.2 L625.9,648.6 L625.6,648.0 L625.3,647.4 L625.0,646.8 L624.7,646.2 L624.4,645.6 L624.1,645.0 L623.9,644.3 L623.6,643.7 L623.4,643.0 L623.1,642.4" fill="none" stroke="#000" stroke-width="2.5"/>
<path d="M649.5,591.0 L649.7,591.1 L650.0,591.3 L650.3,591.5 L650.5,591.6 L650.8,591.8 L651.0,592.0 L651.3,592.2 L651.6,592.4 L651.8,592.6 L652.1,592.8 L652.3,593.1 L652.6,593.3 L652.8,593.5 L653.1,593.7 L653.3,594.0 L653.6,594.2 L653.8,594.5 L654.0,594.7 L654.3,595.0 L654.5,595.3 L654.7,595.5 L655.0,595.8 L655.2,596.1 L655.4,596.4 L655.6,596.7 L655.9,597.0 L656.1,597.3 L656.3,597.6 L656.5,597.9 L656.7,598.2 L656.9,598.5 L657.1,598.8 L657.3,599.1 L657.5,599.5 L657.7,599.8 L657.9,600.2 L658.1,600.5 L658.3,600.8 L658.5,601.2 L658.7,601.6" fill="none" stroke="#000" stroke-width="2"/>
<path d="M639,645.5 C642,635 650,626 661,624" fill="none" stroke="#000" stroke-width="1" />
<ellipse cx="667.2" cy="601.0" rx="3.0" ry="4.5" fill="#000" stroke="#000" stroke-width="0.5" />
<path d="M695,604 L700,575 L719,574 L719,604" fill="none" stroke="#000" stroke-width="1.2" />
<path d="M700,597 L712,596 L712,600 L700,601 Z" fill="#000" stroke="#000" stroke-width="0.5" />
<path d="M682,615.9 H803" fill="none" stroke="#000" stroke-width="1" stroke-dasharray="6,2" />
<path d="M695.2,615.9 C690,630 684,645 678.7,658.6" fill="none" stroke="#000" stroke-width="1" stroke-dasharray="5,2" />
<path d="M700,603 C710,606 722,606 728,604" fill="none" stroke="#000" stroke-width="1" />
<path d="M723.8,539.8 L740,539.8 L740,552.7 L723.8,552.7" fill="none" stroke="#000" stroke-width="1" />
<path d="M762.4,614.1 L760.2,613.2 L758.1,612.0 L755.9,610.6 L753.9,608.8 L751.9,606.8 L750.0,604.6 L748.1,602.1 L746.4,599.3 L744.8,596.3 L743.3,593.2 L741.9,589.8 L740.7,586.3 L739.6,582.6 L738.6,578.7 L737.8,574.8 L737.1,570.7 L736.6,566.6 L736.2,562.4 L736.0,558.2 L736.0,554.0 L736.1,549.7 L736.4,545.5 L736.8,541.3 L737.4,537.3 L738.2,533.3 L739.1,529.4 L740.1,525.6 L741.3,522.0 L742.6,518.5 L744.0,515.2 L745.6,512.2 L747.3,509.3 L749.0,506.7 L750.9,504.3 L752.9,502.1 L754.9,500.3 L757.0,498.7 L759.1,497.4 L761.3,496.3 L763.5,495.6" fill="none" stroke="#000" stroke-width="1" stroke-dasharray="5,2"/>
<path d="M751.7,611.4 L750.0,610.0 L748.4,608.5 L746.8,606.7 L745.2,604.7 L743.7,602.6 L742.3,600.3 L741.0,597.8 L739.7,595.1 L738.5,592.4 L737.4,589.4 L736.4,586.3 L735.5,583.2 L734.7,579.9 L734.0,576.5 L733.4,573.0 L732.9,569.5 L732.5,565.9 L732.2,562.3 L732.1,558.7 L732.0,555.0 L732.1,551.3 L732.2,547.7 L732.5,544.1 L732.9,540.5 L733.4,537.0 L734.0,533.5 L734.7,530.1 L735.5,526.8 L736.4,523.7 L737.4,520.6 L738.5,517.6 L739.7,514.9 L741.0,512.2 L742.3,509.7 L743.7,507.4 L745.2,505.3 L746.8,503.3 L748.4,501.5 L750.0,500.0 L751.7,498.6" fill="none" stroke="#000" stroke-width="1" stroke-dasharray="4,3"/>
<line x1="736.0" y1="495.5" x2="789.0" y2="495.5" stroke="#000" stroke-width="1.2"/>
<line x1="753.0" y1="615.5" x2="789.0" y2="615.5" stroke="#000" stroke-width="1.2"/>
<ellipse cx="789.0" cy="555.5" rx="32.6" ry="60.0" fill="#fff" stroke="#000" stroke-width="1.1" stroke-dasharray="7,2" />
<ellipse cx="790.5" cy="555.0" rx="27.0" ry="52.5" fill="none" stroke="#000" stroke-width="1" stroke-dasharray="5,2" />
<path d="M778.8,592.6 L777.8,591.7 L776.8,590.6 L775.9,589.5 L774.9,588.2 L774.0,586.7 L773.2,585.2 L772.4,583.5 L771.6,581.8 L770.9,579.9 L770.3,577.9 L769.7,575.9 L769.1,573.8 L768.6,571.6 L768.2,569.3 L767.8,567.0 L767.5,564.7 L767.3,562.3 L767.1,559.9 L767.0,557.4 L767.0,555.0 L767.0,552.6 L767.1,550.1 L767.3,547.7 L767.5,545.3 L767.8,543.0 L768.2,540.7 L768.6,538.4 L769.1,536.2 L769.7,534.1 L770.3,532.1 L770.9,530.1 L771.6,528.2 L772.4,526.5 L773.2,524.8 L774.0,523.3 L774.9,521.8 L775.9,520.5 L776.8,519.4 L777.8,518.3 L778.8,517.4" fill="none" stroke="#000" stroke-width="0.8" stroke-dasharray="4,4"/>
<path d="M752,610 L765,615.5 L752,615.5 Z" fill="#000" stroke="#000" stroke-width="1" />
<path d="M765,492 L772,492 L777,496 L765,496 Z" fill="#000" stroke="#000" stroke-width="1" />
<path d="M771,494 H790" fill="none" stroke="#000" stroke-width="2" />
<path d="M861.1,606.2 L859.2,605.5 L857.3,604.5 L855.5,603.2 L853.7,601.7 L852.0,600.0 L850.3,598.1 L848.8,596.0 L847.3,593.6 L845.9,591.1 L844.6,588.4 L843.3,585.6 L842.3,582.6 L841.3,579.4 L840.4,576.2 L839.7,572.8 L839.1,569.3 L838.6,565.8 L838.3,562.2 L838.1,558.6 L838.0,555.0 L838.1,551.4 L838.3,547.8 L838.6,544.2 L839.1,540.7 L839.7,537.2 L840.4,533.8 L841.3,530.6 L842.3,527.4 L843.3,524.4 L844.6,521.6 L845.9,518.9 L847.3,516.4 L848.8,514.0 L850.3,511.9 L852.0,510.0 L853.7,508.3 L855.5,506.8 L857.3,505.5 L859.2,504.5 L861.1,503.8" fill="none" stroke="#000" stroke-width="0.9" stroke-dasharray="4,5"/>
<ellipse cx="881.3" cy="555.4" rx="29.0" ry="52.6" fill="none" stroke="#000" stroke-width="1" />
<ellipse cx="881.0" cy="555.6" rx="27.0" ry="50.5" fill="none" stroke="#000" stroke-width="0.8" />
<ellipse cx="880.5" cy="556.0" rx="24.8" ry="47.9" fill="#000" stroke="#000" stroke-width="1" />
<ellipse cx="877.8" cy="555.0" rx="12.8" ry="33.4" fill="#fff" stroke="#000" stroke-width="0.5" transform="rotate(-7 877.8 555)"/>
<path d="M866,518 l4,2 l-2,3 z" fill="#fff" stroke="#000" stroke-width="0" />
<path d="M891,572 l6,3 l-6,5 z" fill="#fff" stroke="#000" stroke-width="0" />
<path d="M139.9,436.2 L137.3,437.6 L134.8,439.2 L132.3,441.2 L129.9,443.4 L127.6,445.9 L125.5,448.7 L123.4,451.7 L121.5,455.0 L119.7,458.5 L118.1,462.1 L116.6,466.0 L115.3,470.0 L114.1,474.2 L113.1,478.5 L112.3,482.9 L111.7,487.4 L111.3,492.0 L111.1,496.5 L111.0,501.2 L111.1,505.8 L111.5,510.3 L112.0,514.8 L112.7,519.3 L113.6,523.7 L114.7,527.9 L115.9,532.0 L117.3,535.9 L118.9,539.7 L120.6,543.3 L122.4,546.7 L124.4,549.8 L126.5,552.7 L128.8,555.4 L131.1,557.7 L133.5,559.8 L136.0,561.6 L138.6,563.1 L141.2,564.3 L143.9,565.2 L146.6,565.7" fill="none" stroke="#000" stroke-width="0.9" stroke-dasharray="1.5,9"/>
<line x1="394.0" y1="211.6" x2="396.0" y2="211.6" stroke="#000" stroke-width="1.1"/>
<line x1="445.8" y1="211.6" x2="448.5" y2="211.6" stroke="#000" stroke-width="1.1"/>
<line x1="450.5" y1="211.6" x2="451.8" y2="211.6" stroke="#000" stroke-width="1.1"/>
<line x1="473.0" y1="211.6" x2="475.0" y2="211.6" stroke="#000" stroke-width="1.1"/>
<line x1="481.7" y1="211.6" x2="487.0" y2="211.6" stroke="#000" stroke-width="1.1"/>
<line x1="489.0" y1="211.6" x2="493.0" y2="211.6" stroke="#000" stroke-width="1.1"/>
<line x1="533.6" y1="210.3" x2="536.2" y2="210.3" stroke="#000" stroke-width="1.1"/>
<line x1="377.5" y1="430.3" x2="378.7" y2="430.3" stroke="#000" stroke-width="1.2"/>
<line x1="386.7" y1="430.3" x2="388.0" y2="430.3" stroke="#000" stroke-width="1.2"/>
<line x1="451.8" y1="429.4" x2="454.0" y2="429.4" stroke="#000" stroke-width="1.2"/>
<line x1="455.5" y1="429.4" x2="461.0" y2="429.4" stroke="#000" stroke-width="1.2"/>
<line x1="471.7" y1="429.4" x2="479.0" y2="429.4" stroke="#000" stroke-width="1.2"/>
<line x1="482.4" y1="429.4" x2="485.0" y2="429.4" stroke="#000" stroke-width="1.2"/>
<line x1="487.0" y1="429.4" x2="488.4" y2="429.4" stroke="#000" stroke-width="1.2"/>
<line x1="489.7" y1="429.4" x2="495.7" y2="429.4" stroke="#000" stroke-width="1.2"/>
<line x1="508.3" y1="428.3" x2="513.0" y2="428.3" stroke="#000" stroke-width="1.2"/>
<line x1="522.3" y1="428.3" x2="525.0" y2="428.3" stroke="#000" stroke-width="1.2"/>
<line x1="532.2" y1="428.3" x2="537.0" y2="428.3" stroke="#000" stroke-width="1.2"/>
<line x1="538.5" y1="428.3" x2="541.0" y2="428.3" stroke="#000" stroke-width="1.2"/>
<line x1="542.5" y1="428.3" x2="544.2" y2="428.3" stroke="#000" stroke-width="1.2"/>
<line x1="548.2" y1="427.6" x2="551.0" y2="427.6" stroke="#000" stroke-width="1.2"/>
<ellipse cx="645.2" cy="161.4" rx="1.0" ry="1.2" fill="#000" stroke="#000" stroke-width="0.5" />
<ellipse cx="538.0" cy="687.0" rx="0.9" ry="0.9" fill="#000" stroke="#000" stroke-width="0.5" />
<line x1="9.0" y1="340.0" x2="12.0" y2="341.0" stroke="#000" stroke-width="1"/>
<line x1="76.5" y1="584.5" x2="77.2" y2="586.5" stroke="#000" stroke-width="0.9"/>
<ellipse cx="75.7" cy="721.8" rx="0.6" ry="0.6" fill="#000" stroke="#000" stroke-width="0.3" />
</g>
<g class="co">
<circle cx="46" cy="45.3" r="13.6" fill="#fff" stroke="#000" stroke-width="2.7"/>
<path d="M45.1,37.9 L48.1,37.9 L48.1,51.9 L45.1,51.9 L45.1,42.4 L42.4,43.1 L42.4,40.5 Z" fill="#000"/>
<circle cx="103.4" cy="43.4" r="13.6" fill="#fff" stroke="#000" stroke-width="2.7"/>
<text class="cn" x="103.4" y="50.0" transform="translate(103.4 0) scale(0.8 1) translate(-103.4 0)">2</text>
<circle cx="159.4" cy="43.1" r="13.6" fill="#fff" stroke="#000" stroke-width="2.7"/>
<text class="cn" x="159.4" y="49.7" transform="translate(159.4 0) scale(0.8 1) translate(-159.4 0)">3</text>
<circle cx="220.3" cy="42.1" r="13.6" fill="#fff" stroke="#000" stroke-width="2.7"/>
<text class="cn" x="220.3" y="48.7" transform="translate(220.3 0) scale(0.8 1) translate(-220.3 0)">4</text>
<circle cx="277.4" cy="40.6" r="13.6" fill="#fff" stroke="#000" stroke-width="2.7"/>
<text class="cn" x="277.4" y="47.2" transform="translate(277.4 0) scale(0.8 1) translate(-277.4 0)">5</text>
<circle cx="336.2" cy="38.9" r="13.6" fill="#fff" stroke="#000" stroke-width="2.7"/>
<text class="cn" x="336.2" y="45.5" transform="translate(336.2 0) scale(0.8 1) translate(-336.2 0)">6</text>
<circle cx="395.7" cy="38.9" r="13.6" fill="#fff" stroke="#000" stroke-width="2.7"/>
<text class="cn" x="395.7" y="45.5" transform="translate(395.7 0) scale(0.8 1) translate(-395.7 0)">7</text>
<circle cx="444.6" cy="38.4" r="13.6" fill="#fff" stroke="#000" stroke-width="2.7"/>
<text class="cn" x="444.6" y="45.0" transform="translate(444.6 0) scale(0.8 1) translate(-444.6 0)">8</text>
<circle cx="609" cy="35" r="13.6" fill="#fff" stroke="#000" stroke-width="2.7"/>
<text class="cn" x="609.0" y="41.6" transform="translate(609.0 0) scale(0.8 1) translate(-609.0 0)">9</text>
<circle cx="665.6" cy="33.9" r="13.6" fill="#fff" stroke="#000" stroke-width="2.7"/>
<path d="M660.4,26.5 L663.4,26.5 L663.4,40.5 L660.4,40.5 L660.4,31.0 L657.7,31.7 L657.7,29.1 Z" fill="#000"/>
<text class="cn" x="669.9" y="40.5" transform="translate(669.9 0) scale(0.74 1) translate(-669.9 0)">0</text>
<circle cx="717.3" cy="33.6" r="13.6" fill="#fff" stroke="#000" stroke-width="2.7"/>
<path d="M712.1,26.2 L715.1,26.2 L715.1,40.2 L712.1,40.2 L712.1,30.7 L709.4,31.4 L709.4,28.8 Z" fill="#000"/>
<path d="M720.7,26.2 L723.7,26.2 L723.7,40.2 L720.7,40.2 L720.7,30.7 L718.0,31.4 L718.0,28.8 Z" fill="#000"/>
<circle cx="764.4" cy="32.7" r="13.6" fill="#fff" stroke="#000" stroke-width="2.7"/>
<path d="M759.2,25.3 L762.2,25.3 L762.2,39.3 L759.2,39.3 L759.2,29.8 L756.5,30.5 L756.5,27.9 Z" fill="#000"/>
<text class="cn" x="768.7" y="39.3" transform="translate(768.7 0) scale(0.74 1) translate(-768.7 0)">2</text>
<circle cx="815.6" cy="31" r="13.6" fill="#fff" stroke="#000" stroke-width="2.7"/>
<path d="M810.4,23.6 L813.4,23.6 L813.4,37.6 L810.4,37.6 L810.4,28.1 L807.7,28.8 L807.7,26.2 Z" fill="#000"/>
<text class="cn" x="819.9" y="37.6" transform="translate(819.9 0) scale(0.74 1) translate(-819.9 0)">3</text>
<circle cx="81" cy="247.4" r="13.6" fill="#fff" stroke="#000" stroke-width="2.7"/>
<path d="M75.8,240.0 L78.8,240.0 L78.8,254.0 L75.8,254.0 L75.8,244.5 L73.1,245.2 L73.1,242.6 Z" fill="#000"/>
<text class="cn" x="85.3" y="254.0" transform="translate(85.3 0) scale(0.74 1) translate(-85.3 0)">4</text>
<circle cx="118.7" cy="396.9" r="13.6" fill="#fff" stroke="#000" stroke-width="2.7"/>
<path d="M113.5,389.5 L116.5,389.5 L116.5,403.5 L113.5,403.5 L113.5,394.0 L110.8,394.7 L110.8,392.1 Z" fill="#000"/>
<text class="cn" x="123.0" y="403.5" transform="translate(123.0 0) scale(0.74 1) translate(-123.0 0)">5</text>
<circle cx="200.8" cy="244.3" r="13.6" fill="#fff" stroke="#000" stroke-width="2.7"/>
<path d="M195.6,236.9 L198.6,236.9 L198.6,250.9 L195.6,250.9 L195.6,241.4 L192.9,242.1 L192.9,239.5 Z" fill="#000"/>
<text class="cn" x="205.1" y="250.9" transform="translate(205.1 0) scale(0.74 1) translate(-205.1 0)">6</text>
<circle cx="347" cy="234" r="13.6" fill="#fff" stroke="#000" stroke-width="2.7"/>
<path d="M341.8,226.6 L344.8,226.6 L344.8,240.6 L341.8,240.6 L341.8,231.1 L339.1,231.8 L339.1,229.2 Z" fill="#000"/>
<text class="cn" x="351.3" y="240.6" transform="translate(351.3 0) scale(0.74 1) translate(-351.3 0)">7</text>
<circle cx="521.8" cy="236" r="13.6" fill="#fff" stroke="#000" stroke-width="2.7"/>
<path d="M516.6,228.6 L519.6,228.6 L519.6,242.6 L516.6,242.6 L516.6,233.1 L513.9,233.8 L513.9,231.2 Z" fill="#000"/>
<text class="cn" x="526.1" y="242.6" transform="translate(526.1 0) scale(0.74 1) translate(-526.1 0)">8</text>
<circle cx="595.5" cy="235.6" r="13.6" fill="#fff" stroke="#000" stroke-width="2.7"/>
<path d="M590.3,228.2 L593.3,228.2 L593.3,242.2 L590.3,242.2 L590.3,232.7 L587.6,233.4 L587.6,230.8 Z" fill="#000"/>
<text class="cn" x="599.8" y="242.2" transform="translate(599.8 0) scale(0.74 1) translate(-599.8 0)">9</text>
<circle cx="663" cy="233.4" r="13.6" fill="#fff" stroke="#000" stroke-width="2.7"/>
<text class="cn" x="658.7" y="240.0" transform="translate(658.7 0) scale(0.74 1) translate(-658.7 0)">2</text>
<text class="cn" x="667.3" y="240.0" transform="translate(667.3 0) scale(0.74 1) translate(-667.3 0)">0</text>
<circle cx="720.7" cy="389.2" r="13.6" fill="#fff" stroke="#000" stroke-width="2.7"/>
<text class="cn" x="716.4" y="395.8" transform="translate(716.4 0) scale(0.74 1) translate(-716.4 0)">2</text>
<path d="M724.1,381.8 L727.1,381.8 L727.1,395.8 L724.1,395.8 L724.1,386.3 L721.4,387.0 L721.4,384.4 Z" fill="#000"/>
<circle cx="751.1" cy="360.7" r="13.6" fill="#fff" stroke="#000" stroke-width="2.7"/>
<text class="cn" x="746.8" y="367.3" transform="translate(746.8 0) scale(0.74 1) translate(-746.8 0)">2</text>
<text class="cn" x="755.4" y="367.3" transform="translate(755.4 0) scale(0.74 1) translate(-755.4 0)">2</text>
<circle cx="838.9" cy="357" r="13.6" fill="#fff" stroke="#000" stroke-width="2.7"/>
<text class="cn" x="834.6" y="363.6" transform="translate(834.6 0) scale(0.74 1) translate(-834.6 0)">2</text>
<text class="cn" x="843.2" y="363.6" transform="translate(843.2 0) scale(0.74 1) translate(-843.2 0)">3</text>
<circle cx="924.2" cy="355.6" r="13.6" fill="#fff" stroke="#000" stroke-width="2.7"/>
<text class="cn" x="919.9" y="362.2" transform="translate(919.9 0) scale(0.74 1) translate(-919.9 0)">2</text>
<text class="cn" x="928.5" y="362.2" transform="translate(928.5 0) scale(0.74 1) translate(-928.5 0)">4</text>
<circle cx="164.7" cy="460.9" r="13.6" fill="#fff" stroke="#000" stroke-width="2.7"/>
<text class="cn" x="160.4" y="467.5" transform="translate(160.4 0) scale(0.74 1) translate(-160.4 0)">2</text>
<text class="cn" x="169.0" y="467.5" transform="translate(169.0 0) scale(0.74 1) translate(-169.0 0)">5</text>
<circle cx="220.2" cy="459.4" r="13.6" fill="#fff" stroke="#000" stroke-width="2.7"/>
<text class="cn" x="215.9" y="466.0" transform="translate(215.9 0) scale(0.74 1) translate(-215.9 0)">2</text>
<text class="cn" x="224.5" y="466.0" transform="translate(224.5 0) scale(0.74 1) translate(-224.5 0)">6</text>
<circle cx="280.2" cy="458.9" r="13.6" fill="#fff" stroke="#000" stroke-width="2.7"/>
<text class="cn" x="275.9" y="465.5" transform="translate(275.9 0) scale(0.74 1) translate(-275.9 0)">2</text>
<text class="cn" x="284.5" y="465.5" transform="translate(284.5 0) scale(0.74 1) translate(-284.5 0)">7</text>
<circle cx="342.7" cy="459.0" r="13.6" fill="#fff" stroke="#000" stroke-width="2.7"/>
<text class="cn" x="338.4" y="465.6" transform="translate(338.4 0) scale(0.74 1) translate(-338.4 0)">2</text>
<text class="cn" x="347.0" y="465.6" transform="translate(347.0 0) scale(0.74 1) translate(-347.0 0)">8</text>
<circle cx="405.3" cy="457.2" r="13.6" fill="#fff" stroke="#000" stroke-width="2.7"/>
<text class="cn" x="401.0" y="463.8" transform="translate(401.0 0) scale(0.74 1) translate(-401.0 0)">2</text>
<text class="cn" x="409.6" y="463.8" transform="translate(409.6 0) scale(0.74 1) translate(-409.6 0)">9</text>
<circle cx="753.6" cy="454" r="13.6" fill="#fff" stroke="#000" stroke-width="2.7"/>
<text class="cn" x="749.3" y="460.6" transform="translate(749.3 0) scale(0.74 1) translate(-749.3 0)">3</text>
<text class="cn" x="757.9" y="460.6" transform="translate(757.9 0) scale(0.74 1) translate(-757.9 0)">0</text>
<circle cx="820.2" cy="452.2" r="13.6" fill="#fff" stroke="#000" stroke-width="2.7"/>
<text class="cn" x="815.9" y="458.8" transform="translate(815.9 0) scale(0.74 1) translate(-815.9 0)">3</text>
<path d="M823.6,444.8 L826.6,444.8 L826.6,458.8 L823.6,458.8 L823.6,449.3 L820.9,450.0 L820.9,447.4 Z" fill="#000"/>
<line x1="54.0" y1="57.5" x2="82.9" y2="101.9" stroke="#000" stroke-width="2.8"/>
<polygon points="87.8,109.4 80.2,103.6 85.6,100.1" fill="#000"/>
<line x1="110.4" y1="56.2" x2="129.7" y2="91.1" stroke="#000" stroke-width="2.8"/>
<polygon points="134.0,99.0 126.9,92.7 132.5,89.6" fill="#000"/>
<line x1="163.0" y1="57.3" x2="172.8" y2="96.6" stroke="#000" stroke-width="2.8"/>
<polygon points="175.0,105.3 169.7,97.3 175.9,95.8" fill="#000"/>
<line x1="222.9" y1="56.5" x2="225.9" y2="72.7" stroke="#000" stroke-width="2.8"/>
<polygon points="227.5,81.6 222.7,73.3 229.0,72.2" fill="#000"/>
<line x1="279.0" y1="55.1" x2="282.6" y2="87.1" stroke="#000" stroke-width="2.8"/>
<polygon points="283.6,96.0 279.4,87.4 285.8,86.7" fill="#000"/>
<line x1="338.2" y1="53.4" x2="339.6" y2="63.1" stroke="#000" stroke-width="2.8"/>
<polygon points="340.8,72.0 336.4,63.5 342.7,62.6" fill="#000"/>
<line x1="402.9" y1="51.6" x2="423.0" y2="87.5" stroke="#000" stroke-width="2.8"/>
<polygon points="427.4,95.3 420.2,89.0 425.8,85.9" fill="#000"/>
<line x1="455.2" y1="48.5" x2="472.1" y2="64.7" stroke="#000" stroke-width="2.8"/>
<polygon points="478.6,70.9 469.9,67.0 474.3,62.4" fill="#000"/>
<line x1="613.4" y1="48.9" x2="623.4" y2="80.6" stroke="#000" stroke-width="2.8"/>
<polygon points="626.1,89.2 620.3,81.6 626.4,79.7" fill="#000"/>
<line x1="668.6" y1="48.2" x2="675.5" y2="81.5" stroke="#000" stroke-width="2.8"/>
<polygon points="677.3,90.3 672.3,82.1 678.6,80.8" fill="#000"/>
<line x1="721.6" y1="47.6" x2="730.6" y2="77.1" stroke="#000" stroke-width="2.8"/>
<polygon points="733.2,85.7 727.5,78.0 733.6,76.2" fill="#000"/>
<line x1="768.3" y1="46.8" x2="775.1" y2="71.2" stroke="#000" stroke-width="2.8"/>
<polygon points="777.5,79.9 772.0,72.1 778.2,70.4" fill="#000"/>
<line x1="820.5" y1="44.8" x2="824.5" y2="56.2" stroke="#000" stroke-width="2.8"/>
<polygon points="827.5,64.7 821.5,57.3 827.5,55.1" fill="#000"/>
<line x1="79.1" y1="261.9" x2="78.2" y2="269.3" stroke="#000" stroke-width="2.8"/>
<polygon points="77.0,278.2 75.0,268.9 81.3,269.7" fill="#000"/>
<line x1="105.1" y1="402.2" x2="71.6" y2="415.2" stroke="#000" stroke-width="2.8"/>
<polygon points="63.2,418.5 70.4,412.3 72.7,418.2" fill="#000"/>
<line x1="194.6" y1="257.5" x2="185.7" y2="276.3" stroke="#000" stroke-width="2.8"/>
<polygon points="181.9,284.4 182.8,274.9 188.6,277.6" fill="#000"/>
<line x1="518.4" y1="250.2" x2="508.8" y2="291.0" stroke="#000" stroke-width="2.8"/>
<polygon points="506.7,299.8 505.7,290.3 511.9,291.8" fill="#000"/>
<line x1="590.8" y1="249.4" x2="584.3" y2="268.8" stroke="#000" stroke-width="2.8"/>
<polygon points="581.4,277.3 581.3,267.7 587.3,269.8" fill="#000"/>
<line x1="668.6" y1="246.9" x2="695.0" y2="309.9" stroke="#000" stroke-width="2.8"/>
<polygon points="698.5,318.2 692.1,311.1 698.0,308.7" fill="#000"/>
<line x1="735.3" y1="388.3" x2="749.4" y2="387.5" stroke="#000" stroke-width="2.8"/>
<polygon points="758.4,387.0 749.6,390.7 749.2,384.3" fill="#000"/>
<line x1="765.0" y1="365.2" x2="796.7" y2="375.4" stroke="#000" stroke-width="2.8"/>
<polygon points="805.3,378.2 795.8,378.5 797.7,372.4" fill="#000"/>
<line x1="844.3" y1="370.6" x2="845.7" y2="374.2" stroke="#000" stroke-width="2.8"/>
<polygon points="849.0,382.6 842.7,375.4 848.7,373.1" fill="#000"/>
<line x1="919.1" y1="369.3" x2="915.1" y2="380.1" stroke="#000" stroke-width="2.8"/>
<polygon points="912.0,388.5 912.1,378.9 918.1,381.2" fill="#000"/>
<line x1="167.5" y1="475.2" x2="176.7" y2="522.9" stroke="#000" stroke-width="2.8"/>
<polygon points="178.4,531.7 173.5,523.5 179.8,522.3" fill="#000"/>
<line x1="221.6" y1="473.9" x2="226.7" y2="526.4" stroke="#000" stroke-width="2.8"/>
<polygon points="227.6,535.4 223.5,526.8 229.9,526.1" fill="#000"/>
<line x1="281.2" y1="473.5" x2="284.4" y2="518.0" stroke="#000" stroke-width="2.8"/>
<polygon points="285.0,527.0 281.2,518.2 287.6,517.8" fill="#000"/>
<line x1="350.1" y1="471.6" x2="363.6" y2="494.4" stroke="#000" stroke-width="2.8"/>
<polygon points="368.2,502.1 360.9,496.0 366.4,492.7" fill="#000"/>
<line x1="416.6" y1="466.5" x2="457.4" y2="500.1" stroke="#000" stroke-width="2.8"/>
<polygon points="464.4,505.8 455.4,502.6 459.5,497.6" fill="#000"/>
<line x1="747.3" y1="467.2" x2="736.1" y2="490.3" stroke="#000" stroke-width="2.8"/>
<polygon points="732.2,498.4 733.2,488.9 739.0,491.7" fill="#000"/>
<line x1="828.1" y1="464.5" x2="851.1" y2="500.1" stroke="#000" stroke-width="2.8"/>
<polygon points="856.0,507.7 848.4,501.9 853.8,498.4" fill="#000"/>
<path d="M347,248 V257.5 M253.6,271 V257.5 H462.6 V271" fill="none" stroke="#000" stroke-width="2.6"/>
</g>
<g class="t">
<path d="M1019.0,5.4 H1021.6 V18.2 H1019.0 V8.0 L1016.6,9.6 V8.0 Z" fill="#000" stroke="none"/>
<text x="1025.7" y="18.2">.</text>
<text x="1041.3" y="18.2" textLength="179.7" lengthAdjust="spacing" transform="rotate(0.000 1041.3 18.2) translate(1041.3 0) scale(0.9 1) translate(-1041.3 0)">INPUT SUN GEAR.</text>
<text x="1015.2" y="39.6">2</text>
<text x="1025.2" y="39.6">.</text>
<text x="1041.3" y="39.6" textLength="345.1" lengthAdjust="spacing" transform="rotate(-0.106 1041.3 39.6) translate(1041.3 0) scale(0.9 1) translate(-1041.3 0)">INPUT CARRIER THRUST WASHER</text>
<text x="1015.2" y="62.8">3</text>
<text x="1025.2" y="62.8">.</text>
<text x="1040.0" y="62.8" textLength="483.6" lengthAdjust="spacing" transform="rotate(-0.262 1040.0 62.8) translate(1040.0 0) scale(0.9 1) translate(-1040.0 0)">OUTPUT SHAFT TO INPUT CARRIER SNAP RING</text>
<text x="1013.9" y="84.2">4</text>
<text x="1023.9" y="84.2">.</text>
<text x="1041.3" y="84.2" textLength="280.4" lengthAdjust="spacing" transform="rotate(-0.108 1041.3 84.2) translate(1041.3 0) scale(0.9 1) translate(-1041.3 0)">INPUT CARRIER ASSEMBLY</text>
<text x="1015.2" y="106.6">5</text>
<text x="1025.2" y="106.6">.</text>
<text x="1041.8" y="106.6" textLength="489.1" lengthAdjust="spacing" transform="rotate(-0.273 1041.8 106.6) translate(1041.8 0) scale(0.9 1) translate(-1041.8 0)">INPUT CARRIER TO REACTION SHAFT BEARING</text>
<text x="1015.2" y="128.5">6</text>
<text x="1025.2" y="128.5">.</text>
<text x="1041.8" y="128.5" textLength="391.3" lengthAdjust="spacing" transform="rotate(-0.184 1041.8 128.5) translate(1041.8 0) scale(0.9 1) translate(-1041.8 0)">INPUT INTERNAL GEAR AND SUPPORT</text>
<text x="1041.3" y="150.1" textLength="111.2" lengthAdjust="spacing" transform="rotate(0.000 1041.3 150.1) translate(1041.3 0) scale(0.9 1) translate(-1041.3 0)">ASSEMBLY</text>
<text x="1015.2" y="172.8">7</text>
<text x="1025.2" y="172.8">.</text>
<text x="1041.3" y="172.8" textLength="439.1" lengthAdjust="spacing" transform="rotate(-0.113 1041.3 172.8) translate(1041.3 0) scale(0.9 1) translate(-1041.3 0)">REACTION SHAFT SHELL THRUST WASHER</text>
<text x="1015.2" y="194.7">8</text>
<text x="1025.2" y="194.7">.</text>
<text x="1042.6" y="194.7" textLength="291.6" lengthAdjust="spacing" transform="rotate(-0.129 1042.6 194.7) translate(1042.6 0) scale(0.9 1) translate(-1042.6 0)">REACTION SUN GEAR SHELL</text>
<text x="1015.7" y="217.0">9</text>
<text x="1025.7" y="217.0">.</text>
<text x="1042.6" y="217.0" textLength="339.9" lengthAdjust="spacing" transform="rotate(-0.043 1042.6 217.0) translate(1042.6 0) scale(0.9 1) translate(-1042.6 0)">REACTION SUN GEAR SNAP RING</text>
<path d="M1008.9,226.8 H1011.5 V239.6 H1008.9 V229.4 L1006.5,231.0 V229.4 Z" fill="#000" stroke="none"/>
<text x="1015.6" y="239.6">0</text>
<text x="1025.6" y="239.6">.</text>
<text x="1042.6" y="239.6" textLength="219.3" lengthAdjust="spacing" transform="rotate(0.000 1042.6 239.6) translate(1042.6 0) scale(0.9 1) translate(-1042.6 0)">REACTION SUN GEAR</text>
<path d="M1009.6,249.4 H1012.2 V262.2 H1009.6 V252.0 L1007.2,253.6 V252.0 Z" fill="#000" stroke="none"/>
<path d="M1019.6,249.4 H1022.2 V262.2 H1019.6 V252.0 L1017.2,253.6 V252.0 Z" fill="#000" stroke="none"/>
<text x="1026.3" y="262.2">.</text>
<text x="1041.8" y="262.2" textLength="346.4" lengthAdjust="spacing" transform="rotate(-0.106 1041.8 262.2) translate(1041.8 0) scale(0.9 1) translate(-1041.8 0)">RACE TO SHELL THRUST WASHER</text>
<path d="M1008.9,271.7 H1011.5 V284.5 H1008.9 V274.3 L1006.5,275.9 V274.3 Z" fill="#000" stroke="none"/>
<text x="1015.6" y="284.5">2</text>
<text x="1025.6" y="284.5">.</text>
<text x="1042.6" y="284.5" textLength="265.7" lengthAdjust="spacing" transform="rotate(-0.202 1042.6 284.5) translate(1042.6 0) scale(0.9 1) translate(-1042.6 0)">LO REVERSE INNER RACE</text>
<path d="M1008.9,293.1 H1011.5 V305.9 H1008.9 V295.7 L1006.5,297.3 V295.7 Z" fill="#000" stroke="none"/>
<text x="1015.6" y="305.9">3</text>
<text x="1025.6" y="305.9">.</text>
<text x="1042.6" y="305.9" textLength="438.8" lengthAdjust="spacing" transform="rotate(-0.065 1042.6 305.9) translate(1042.6 0) scale(0.9 1) translate(-1042.6 0)">LO REVERSE CLUTCH SUPPORT SNAP RING</text>
<path d="M1009.6,315.6 H1012.2 V328.4 H1009.6 V318.2 L1007.2,319.8 V318.2 Z" fill="#000" stroke="none"/>
<text x="1016.3" y="328.4">4</text>
<text x="1026.3" y="328.4">.</text>
<text x="1042.6" y="328.4" textLength="489.3" lengthAdjust="spacing" transform="rotate(-0.072 1042.6 328.4) translate(1042.6 0) scale(0.9 1) translate(-1042.6 0)">LO REVERSE SUPPORT AND ROLLER ASSEMBLY</text>
<path d="M1009.6,337.2 H1012.2 V350.0 H1009.6 V339.8 L1007.2,341.4 V339.8 Z" fill="#000" stroke="none"/>
<text x="1016.3" y="350.0">5</text>
<text x="1026.3" y="350.0">.</text>
<text x="1041.8" y="350.0" textLength="296.2" lengthAdjust="spacing" transform="rotate(0.000 1041.8 350.0) translate(1041.8 0) scale(0.9 1) translate(-1041.8 0)">CLUTCH SUPPORT RETAINER</text>
<path d="M1012.2,363.5 H1014.8 V376.3 H1012.2 V366.1 L1009.8,367.7 V366.1 Z" fill="#000" stroke="none"/>
<text x="1018.9" y="376.3">6</text>
<text x="1028.9" y="376.3">.</text>
<text x="1045.6" y="376.3" textLength="208.2" lengthAdjust="spacing" transform="rotate(-0.704 1045.6 376.3) translate(1045.6 0) scale(0.9 1) translate(-1045.6 0)">REACTION CARRIER</text>
<path d="M1012.2,384.5 H1014.8 V397.3 H1012.2 V387.1 L1009.8,388.7 V387.1 Z" fill="#000" stroke="none"/>
<text x="1018.9" y="397.3">7</text>
<text x="1028.9" y="397.3">.</text>
<text x="1045.6" y="397.3" textLength="306.0" lengthAdjust="spacing" transform="rotate(-0.464 1045.6 397.3) translate(1045.6 0) scale(0.9 1) translate(-1045.6 0)">LO REVERSE CLUTCH PLATES</text>
<path d="M1012.2,405.9 H1014.8 V418.7 H1012.2 V408.5 L1009.8,410.1 V408.5 Z" fill="#000" stroke="none"/>
<text x="1018.9" y="418.7">8</text>
<text x="1028.9" y="418.7">.</text>
<text x="1046.1" y="418.7" textLength="372.9" lengthAdjust="spacing" transform="rotate(-0.370 1046.1 418.7) translate(1046.1 0) scale(0.9 1) translate(-1046.1 0)">REACTION GEAR SUPPORT BEARING</text>
<path d="M1012.2,426.8 H1014.8 V439.6 H1012.2 V429.4 L1009.8,431.0 V429.4 Z" fill="#000" stroke="none"/>
<text x="1018.9" y="439.6">9</text>
<text x="1028.9" y="439.6">.</text>
<text x="1046.1" y="439.6" textLength="438.8" lengthAdjust="spacing" transform="rotate(-0.113 1046.1 439.6) translate(1046.1 0) scale(0.9 1) translate(-1046.1 0)">REACTION INTERNAL GEAR AND SUPPORT</text>
<text x="1008.9" y="462.8">2</text>
<text x="1018.9" y="462.8">0</text>
<text x="1028.9" y="462.8">.</text>
<text x="1045.6" y="462.8" textLength="158.9" lengthAdjust="spacing" transform="rotate(-0.393 1045.6 462.8) translate(1045.6 0) scale(0.9 1) translate(-1045.6 0)">OUTPUT SHAFT</text>
<text x="1009.6" y="486.1">2</text>
<path d="M1022.9,473.3 H1025.5 V486.1 H1022.9 V475.9 L1020.5,477.5 V475.9 Z" fill="#000" stroke="none"/>
<text x="1029.6" y="486.1">.</text>
<text x="1045.6" y="486.1" textLength="258.6" lengthAdjust="spacing" transform="rotate(-0.359 1045.6 486.1) translate(1045.6 0) scale(0.9 1) translate(-1045.6 0)">SPEEDO GEAR RETAINER</text>
<text x="1009.6" y="507.0">2</text>
<text x="1019.6" y="507.0">2</text>
<text x="1029.6" y="507.0">.</text>
<text x="1045.6" y="507.0" textLength="217.4" lengthAdjust="spacing" transform="rotate(-0.259 1045.6 507.0) translate(1045.6 0) scale(0.9 1) translate(-1045.6 0)">SPEEDO DRIVE GEAR</text>
<text x="1009.6" y="528.7">2</text>
<text x="1019.6" y="528.7">3</text>
<text x="1029.6" y="528.7">.</text>
<text x="1045.6" y="528.7" textLength="244.4" lengthAdjust="spacing" transform="rotate(-0.384 1045.6 528.7) translate(1045.6 0) scale(0.9 1) translate(-1045.6 0)">OUTPUT SHAFT SLEEVE</text>
<text x="1009.6" y="551.7">2</text>
<text x="1019.6" y="551.7">4</text>
<text x="1029.6" y="551.7">.</text>
<text x="1046.0" y="551.7" textLength="216.2" lengthAdjust="spacing" transform="rotate(-0.448 1046.0 551.7) translate(1046.0 0) scale(0.9 1) translate(-1046.0 0)">OUTPUT SHAFT SEAL</text>
<text x="1010.6" y="573.3">2</text>
<text x="1020.6" y="573.3">5</text>
<text x="1030.6" y="573.3">.</text>
<text x="1048.1" y="573.3" textLength="466.9" lengthAdjust="spacing" transform="rotate(-0.423 1048.1 573.3) translate(1048.1 0) scale(0.9 1) translate(-1048.1 0)">REACTION GEAR SUPPORT TO CASE BEARING</text>
<text x="1010.6" y="596.7">2</text>
<text x="1020.6" y="596.7">6</text>
<text x="1030.6" y="596.7">.</text>
<text x="1047.6" y="596.7" textLength="326.7" lengthAdjust="spacing" transform="rotate(-0.498 1047.6 596.7) translate(1047.6 0) scale(0.9 1) translate(-1047.6 0)">LO REVERSE SPRING RETAINER</text>
<text x="1011.4" y="618.4">2</text>
<text x="1021.4" y="618.4">7</text>
<text x="1031.4" y="618.4">.</text>
<text x="1048.1" y="618.4" textLength="419.3" lengthAdjust="spacing" transform="rotate(-0.204 1048.1 618.4) translate(1048.1 0) scale(0.9 1) translate(-1048.1 0)">LO REVERSE CLUTCH SPRING ASSEMBLY</text>
<text x="1010.6" y="641.0">2</text>
<text x="1020.6" y="641.0">8</text>
<text x="1030.6" y="641.0">.</text>
<text x="1048.1" y="641.0" textLength="299.6" lengthAdjust="spacing" transform="rotate(-0.401 1048.1 641.0) translate(1048.1 0) scale(0.9 1) translate(-1048.1 0)">LO REVERSE CLUTCH PISTON</text>
<text x="1010.6" y="663.3">2</text>
<text x="1020.6" y="663.3">9</text>
<text x="1030.6" y="663.3">.</text>
<text x="1047.6" y="663.3" textLength="271.6" lengthAdjust="spacing" transform="rotate(-0.197 1047.6 663.3) translate(1047.6 0) scale(0.9 1) translate(-1047.6 0)">CASE TO EXTENSION SEAL</text>
<text x="1011.4" y="685.2">3</text>
<text x="1021.4" y="685.2">0</text>
<text x="1031.4" y="685.2">.</text>
<text x="1047.6" y="685.2" textLength="178.3" lengthAdjust="spacing" transform="rotate(-0.336 1047.6 685.2) translate(1047.6 0) scale(0.9 1) translate(-1047.6 0)">CASE EXTENSION</text>
<text x="1011.4" y="708.5">3</text>
<path d="M1024.7,695.7 H1027.3 V708.5 H1024.7 V698.3 L1022.3,699.9 V698.3 Z" fill="#000" stroke="none"/>
<text x="1031.4" y="708.5">.</text>
<text x="1048.7" y="708.5" textLength="116.2" lengthAdjust="spacing" transform="rotate(-0.450 1048.7 708.5) translate(1048.7 0) scale(0.9 1) translate(-1048.7 0)">REAR SEAL</text>
</g>
</svg>
</body></html>
